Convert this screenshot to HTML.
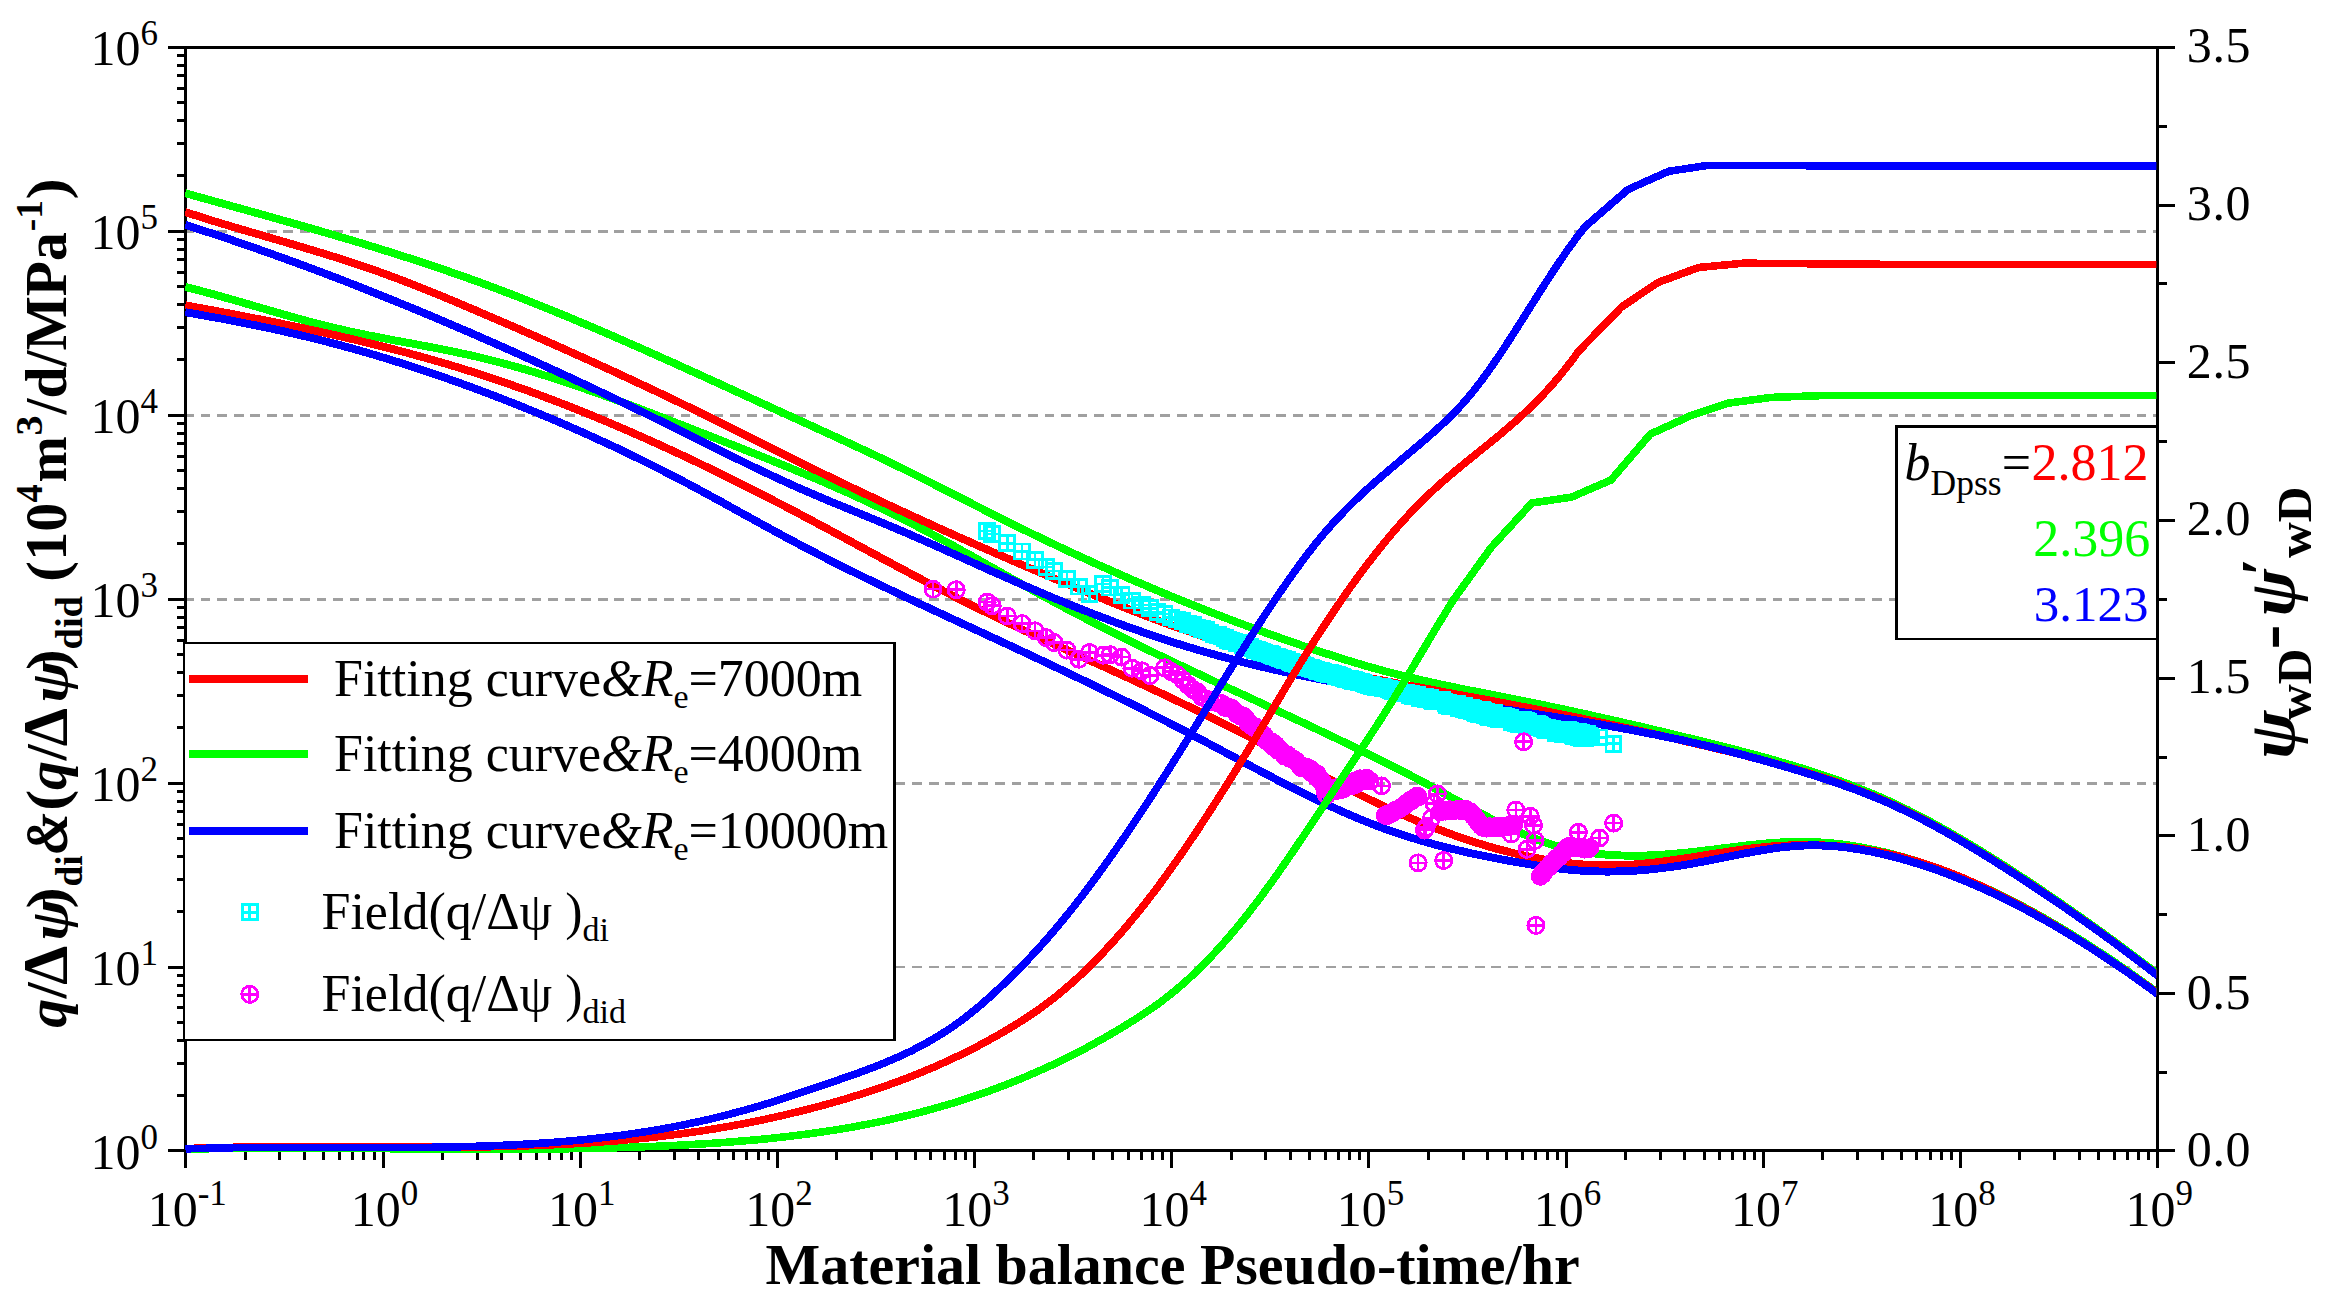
<!DOCTYPE html>
<html lang="en"><head><meta charset="utf-8"><title>Material balance pseudo-time type curve fitting</title>
<style>html,body{margin:0;padding:0;background:#fff}svg{display:block}text{font-family:'Liberation Serif','Times New Roman',Times,serif}</style>
</head><body>
<svg width="2339" height="1310" viewBox="0 0 2339 1310" shape-rendering="crispEdges">
<defs>
<clipPath id="pc"><rect x="184.8" y="46.3" width="1971.6" height="1108.8"/></clipPath>
<g id="sq" fill="none" stroke="#00ffff" stroke-width="2.8"><rect x="-7.4" y="-7.4" width="14.8" height="14.8"/><path d="M-7.4 0H7.4M0 -7.4V7.4"/></g>
<g id="ci" fill="none" stroke="#ff00ff" stroke-width="2.8"><circle r="8.1"/><path d="M-8.1 0H8.1M0 -8.1V8.1"/></g>
</defs>
<rect width="2339" height="1310" fill="#fff"/>
<path d="M185.8 967.1H2157.7M185.8 783.2H2157.7M185.8 599.2H2157.7M185.8 415.2H2157.7M185.8 231.3H2157.7" stroke="#a0a0a0" stroke-width="2.6" stroke-dasharray="9.75 6.797" stroke-dashoffset="1.6" fill="none"/>
<path d="M168.3 47.3H2175.2M168.3 1150.5H2175.2M185.8 45.8V1167.5M2157.7 45.8V1167.5M176.8 1095.7H185.8M176.8 1063.3H185.8M176.8 1040.3H185.8M176.8 1022.5H185.8M176.8 1007.9H185.8M176.8 995.6H185.8M176.8 985H185.8M176.8 975.6H185.8M168.3 967.1H185.8M176.8 911.8H185.8M176.8 879.4H185.8M176.8 856.4H185.8M176.8 838.5H185.8M176.8 824H185.8M176.8 811.7H185.8M176.8 801H185.8M176.8 791.6H185.8M168.3 783.2H185.8M176.8 727.8H185.8M176.8 695.4H185.8M176.8 672.4H185.8M176.8 654.6H185.8M176.8 640H185.8M176.8 627.7H185.8M176.8 617H185.8M176.8 607.6H185.8M168.3 599.2H185.8M176.8 543.8H185.8M176.8 511.4H185.8M176.8 488.4H185.8M176.8 470.6H185.8M176.8 456H185.8M176.8 443.7H185.8M176.8 433.1H185.8M176.8 423.7H185.8M168.3 415.2H185.8M176.8 359.9H185.8M176.8 327.5H185.8M176.8 304.5H185.8M176.8 286.6H185.8M176.8 272.1H185.8M176.8 259.8H185.8M176.8 249.1H185.8M176.8 239.7H185.8M168.3 231.3H185.8M176.8 175.9H185.8M176.8 143.5H185.8M176.8 120.5H185.8M176.8 102.7H185.8M176.8 88.1H185.8M176.8 75.8H185.8M176.8 65.1H185.8M176.8 55.7H185.8M245.2 1150.5V1159.5M279.9 1150.5V1159.5M304.5 1150.5V1159.5M323.6 1150.5V1159.5M339.2 1150.5V1159.5M352.4 1150.5V1159.5M363.9 1150.5V1159.5M374 1150.5V1159.5M383 1150.5V1167.5M442.4 1150.5V1159.5M477.1 1150.5V1159.5M501.7 1150.5V1159.5M520.8 1150.5V1159.5M536.4 1150.5V1159.5M549.6 1150.5V1159.5M561.1 1150.5V1159.5M571.2 1150.5V1159.5M580.2 1150.5V1167.5M639.5 1150.5V1159.5M674.3 1150.5V1159.5M698.9 1150.5V1159.5M718 1150.5V1159.5M733.6 1150.5V1159.5M746.8 1150.5V1159.5M758.3 1150.5V1159.5M768.3 1150.5V1159.5M777.4 1150.5V1167.5M836.7 1150.5V1159.5M871.5 1150.5V1159.5M896.1 1150.5V1159.5M915.2 1150.5V1159.5M930.8 1150.5V1159.5M944 1150.5V1159.5M955.5 1150.5V1159.5M965.5 1150.5V1159.5M974.6 1150.5V1167.5M1033.9 1150.5V1159.5M1068.6 1150.5V1159.5M1093.3 1150.5V1159.5M1112.4 1150.5V1159.5M1128 1150.5V1159.5M1141.2 1150.5V1159.5M1152.6 1150.5V1159.5M1162.7 1150.5V1159.5M1171.8 1150.5V1167.5M1231.1 1150.5V1159.5M1265.8 1150.5V1159.5M1290.5 1150.5V1159.5M1309.6 1150.5V1159.5M1325.2 1150.5V1159.5M1338.4 1150.5V1159.5M1349.8 1150.5V1159.5M1359.9 1150.5V1159.5M1368.9 1150.5V1167.5M1428.3 1150.5V1159.5M1463 1150.5V1159.5M1487.7 1150.5V1159.5M1506.8 1150.5V1159.5M1522.4 1150.5V1159.5M1535.6 1150.5V1159.5M1547 1150.5V1159.5M1557.1 1150.5V1159.5M1566.1 1150.5V1167.5M1625.5 1150.5V1159.5M1660.2 1150.5V1159.5M1684.9 1150.5V1159.5M1704 1150.5V1159.5M1719.6 1150.5V1159.5M1732.8 1150.5V1159.5M1744.2 1150.5V1159.5M1754.3 1150.5V1159.5M1763.3 1150.5V1167.5M1822.7 1150.5V1159.5M1857.4 1150.5V1159.5M1882 1150.5V1159.5M1901.1 1150.5V1159.5M1916.8 1150.5V1159.5M1930 1150.5V1159.5M1941.4 1150.5V1159.5M1951.5 1150.5V1159.5M1960.5 1150.5V1167.5M2019.9 1150.5V1159.5M2054.6 1150.5V1159.5M2079.2 1150.5V1159.5M2098.3 1150.5V1159.5M2114 1150.5V1159.5M2127.2 1150.5V1159.5M2138.6 1150.5V1159.5M2148.7 1150.5V1159.5M2157.7 1072.4H2166.7M2157.7 993.6H2175.2M2157.7 914.7H2166.7M2157.7 835.9H2175.2M2157.7 757H2166.7M2157.7 678.2H2175.2M2157.7 599.3H2166.7M2157.7 520.4H2175.2M2157.7 441.6H2166.7M2157.7 362.7H2175.2M2157.7 283.9H2166.7M2157.7 205H2175.2M2157.7 126.2H2166.7" stroke="#000" stroke-width="3.0" fill="none"/>
<g clip-path="url(#pc)" fill="none" stroke-width="7.8999999999999995" stroke-linejoin="round">
<path d="M185.3 193.2L191.3 194.9L197.3 196.6L203.3 198.2L209.3 199.9L215.3 201.6L221.3 203.2L227.3 204.9L233.3 206.6L239.3 208.2L245.3 209.9L251.3 211.6L257.3 213.2L263.3 214.9L269.3 216.6L275.3 218.3L281.3 220L287.3 221.7L293.3 223.4L299.3 225.1L305.3 226.8L311.3 228.5L317.3 230.2L323.3 232L329.3 233.7L335.3 235.5L341.3 237.3L347.3 239L353.3 240.8L359.3 242.6L365.3 244.5L371.3 246.3L377.3 248.1L383.3 250L389.3 251.9L395.3 253.8L401.3 255.7L407.3 257.6L413.3 259.5L419.3 261.5L425.3 263.5L431.3 265.5L437.3 267.5L443.3 269.5L449.3 271.6L455.3 273.7L461.3 275.8L467.3 277.9L473.3 280.1L479.3 282.2L485.3 284.4L491.3 286.7L497.3 288.9L503.3 291.2L509.3 293.5L515.3 295.8L521.3 298.1L527.3 300.5L533.3 302.9L539.3 305.3L545.3 307.7L551.3 310.1L557.3 312.6L563.3 315L569.3 317.5L575.3 320L581.3 322.6L587.3 325.1L593.3 327.7L599.3 330.2L605.3 332.8L611.3 335.4L617.3 338L623.3 340.6L629.3 343.3L635.3 345.9L641.3 348.5L647.3 351.2L653.3 353.9L659.3 356.6L665.3 359.3L671.3 361.9L677.3 364.7L683.3 367.4L689.3 370.1L695.3 372.8L701.3 375.5L707.3 378.3L713.3 381L719.3 383.7L725.3 386.5L731.3 389.2L737.3 392L743.3 394.7L749.3 397.5L755.3 400.2L761.3 403L767.3 405.7L773.3 408.5L779.3 411.2L785.3 413.9L791.3 416.7L797.3 419.4L803.3 422.1L809.3 424.9L815.3 427.6L821.3 430.4L827.3 433.1L833.3 435.9L839.3 438.6L845.3 441.4L851.3 444.2L857.3 447L863.3 449.8L869.3 452.6L875.3 455.4L881.3 458.3L887.3 461.2L893.3 464.1L899.3 467L905.3 469.9L911.3 472.9L917.3 475.9L923.3 478.9L929.3 481.9L935.3 485L941.3 488L947.3 491.1L953.3 494.1L959.3 497.2L965.3 500.3L971.3 503.3L977.3 506.4L983.3 509.5L989.3 512.5L995.3 515.5L1001.3 518.6L1007.3 521.6L1013.3 524.5L1019.3 527.5L1025.3 530.5L1031.3 533.4L1037.3 536.3L1043.3 539.2L1049.3 542.1L1055.3 544.9L1061.3 547.8L1067.3 550.6L1073.3 553.4L1079.3 556.1L1085.3 558.9L1091.3 561.6L1097.3 564.4L1103.3 567.1L1109.3 569.7L1115.3 572.4L1121.3 575L1127.3 577.7L1133.3 580.3L1139.3 582.8L1145.3 585.4L1151.3 588L1157.3 590.5L1163.3 593L1169.3 595.5L1175.3 597.9L1181.3 600.4L1187.3 602.8L1193.3 605.2L1199.3 607.6L1205.3 610L1211.3 612.4L1217.3 614.7L1223.3 617L1229.3 619.3L1235.3 621.6L1241.3 623.8L1247.3 626.1L1253.3 628.3L1259.3 630.5L1265.3 632.6L1271.3 634.8L1277.3 636.9L1283.3 639L1289.3 641.1L1295.3 643.2L1301.3 645.3L1307.3 647.3L1313.3 649.3L1319.3 651.3L1325.3 653.3L1331.3 655.2L1337.3 657.2L1343.3 659.1L1349.3 660.9L1355.3 662.7L1361.3 664.5L1367.3 666.3L1373.3 668L1379.3 669.6L1385.3 671.3L1391.3 672.8L1397.3 674.4L1403.3 675.9L1409.3 677.3L1415.3 678.7L1421.3 680.1L1427.3 681.5L1433.3 682.8L1439.3 684.1L1445.3 685.4L1451.3 686.6L1457.3 687.9L1463.3 689.1L1469.3 690.3L1475.3 691.4L1481.3 692.6L1487.3 693.8L1493.3 695L1499.3 696.2L1505.3 697.3L1511.3 698.5L1517.3 699.7L1523.3 700.9L1529.3 702.2L1535.3 703.4L1541.3 704.6L1547.3 705.9L1553.3 707.1L1559.3 708.4L1565.3 709.7L1571.3 711L1577.3 712.3L1583.3 713.6L1589.3 714.9L1595.3 716.3L1601.3 717.6L1607.3 719L1613.3 720.3L1619.3 721.7L1625.3 723.1L1631.3 724.4L1637.3 725.8L1643.3 727.2L1649.3 728.7L1655.3 730.1L1661.3 731.5L1667.3 732.9L1673.3 734.4L1679.3 735.8L1685.3 737.3L1691.3 738.7L1697.3 740.2L1703.3 741.7L1709.3 743.2L1715.3 744.7L1721.3 746.2L1727.3 747.7L1733.3 749.2L1739.3 750.8L1745.3 752.3L1751.3 753.9L1757.3 755.5L1763.3 757.2L1769.3 758.8L1775.3 760.5L1781.3 762.3L1787.3 764L1793.3 765.8L1799.3 767.6L1805.3 769.5L1811.3 771.4L1817.3 773.4L1823.3 775.4L1829.3 777.4L1835.3 779.5L1841.3 781.6L1847.3 783.9L1853.3 786.1L1859.3 788.5L1865.3 790.9L1871.3 793.4L1877.3 795.9L1883.3 798.5L1889.3 801.2L1895.3 804L1901.3 806.9L1907.3 809.8L1913.3 812.9L1919.3 815.9L1925.3 819.1L1931.3 822.3L1937.3 825.6L1943.3 828.9L1949.3 832.3L1955.3 835.8L1961.3 839.3L1967.3 842.9L1973.3 846.5L1979.3 850.1L1985.3 853.8L1991.3 857.6L1997.3 861.3L2003.3 865.1L2009.3 869L2015.3 872.9L2021.3 876.8L2027.3 880.7L2033.3 884.7L2039.3 888.7L2045.3 892.8L2051.3 896.8L2057.3 901L2063.3 905.1L2069.3 909.3L2075.3 913.5L2081.3 917.7L2087.3 922L2093.3 926.3L2099.3 930.6L2105.3 934.9L2111.3 939.3L2117.3 943.7L2123.3 948.1L2129.3 952.6L2135.3 957.1L2141.3 961.6L2147.3 966.1L2153.3 970.7L2158 974.3" stroke="#00ff00"/>
<path d="M185.3 287L191.3 288.5L197.3 290L203.3 291.6L209.3 293.2L215.3 294.8L221.3 296.5L227.3 298.2L233.3 299.9L239.3 301.6L245.3 303.4L251.3 305.1L257.3 306.9L263.3 308.6L269.3 310.4L275.3 312.1L281.3 313.8L287.3 315.5L293.3 317.2L299.3 318.9L305.3 320.5L311.3 322.1L317.3 323.7L323.3 325.2L329.3 326.7L335.3 328.1L341.3 329.5L347.3 330.9L353.3 332.2L359.3 333.4L365.3 334.7L371.3 335.9L377.3 337L383.3 338.2L389.3 339.3L395.3 340.5L401.3 341.6L407.3 342.7L413.3 343.8L419.3 345L425.3 346.1L431.3 347.2L437.3 348.4L443.3 349.6L449.3 350.8L455.3 352L461.3 353.3L467.3 354.6L473.3 355.9L479.3 357.3L485.3 358.8L491.3 360.3L497.3 361.8L503.3 363.4L509.3 365L515.3 366.7L521.3 368.4L527.3 370.1L533.3 371.9L539.3 373.8L545.3 375.6L551.3 377.5L557.3 379.5L563.3 381.4L569.3 383.4L575.3 385.5L581.3 387.5L587.3 389.6L593.3 391.7L599.3 393.9L605.3 396L611.3 398.2L617.3 400.4L623.3 402.6L629.3 404.9L635.3 407.1L641.3 409.4L647.3 411.7L653.3 414L659.3 416.3L665.3 418.6L671.3 421L677.3 423.3L683.3 425.6L689.3 428L695.3 430.3L701.3 432.7L707.3 435L713.3 437.4L719.3 439.7L725.3 442.1L731.3 444.5L737.3 446.8L743.3 449.2L749.3 451.6L755.3 453.9L761.3 456.3L767.3 458.7L773.3 461.2L779.3 463.6L785.3 466L791.3 468.5L797.3 471L803.3 473.5L809.3 476L815.3 478.5L821.3 481.1L827.3 483.7L833.3 486.3L839.3 489L845.3 491.6L851.3 494.3L857.3 497.1L863.3 499.8L869.3 502.7L875.3 505.5L881.3 508.4L887.3 511.3L893.3 514.2L899.3 517.2L905.3 520.3L911.3 523.4L917.3 526.5L923.3 529.6L929.3 532.8L935.3 536L941.3 539.3L947.3 542.5L953.3 545.8L959.3 549.2L965.3 552.5L971.3 555.8L977.3 559.2L983.3 562.6L989.3 565.9L995.3 569.3L1001.3 572.7L1007.3 576.1L1013.3 579.5L1019.3 582.8L1025.3 586.2L1031.3 589.5L1037.3 592.9L1043.3 596.2L1049.3 599.4L1055.3 602.7L1061.3 605.9L1067.3 609.1L1073.3 612.2L1079.3 615.4L1085.3 618.5L1091.3 621.6L1097.3 624.7L1103.3 627.7L1109.3 630.8L1115.3 633.8L1121.3 636.8L1127.3 639.7L1133.3 642.7L1139.3 645.6L1145.3 648.6L1151.3 651.5L1157.3 654.4L1163.3 657.2L1169.3 660.1L1175.3 663L1181.3 665.8L1187.3 668.7L1193.3 671.5L1199.3 674.3L1205.3 677.1L1211.3 680L1217.3 682.8L1223.3 685.6L1229.3 688.4L1235.3 691.1L1241.3 693.9L1247.3 696.7L1253.3 699.5L1259.3 702.3L1265.3 705.1L1271.3 707.9L1277.3 710.7L1283.3 713.5L1289.3 716.3L1295.3 719.1L1301.3 721.9L1307.3 724.7L1313.3 727.5L1319.3 730.4L1325.3 733.2L1331.3 736.1L1337.3 738.9L1343.3 741.8L1349.3 744.7L1355.3 747.6L1361.3 750.6L1367.3 753.5L1373.3 756.5L1379.3 759.5L1385.3 762.5L1391.3 765.5L1397.3 768.6L1403.3 771.6L1409.3 774.8L1415.3 777.9L1421.3 781.1L1427.3 784.3L1433.3 787.5L1439.3 790.8L1445.3 794.1L1451.3 797.4L1457.3 800.7L1463.3 803.9L1469.3 807.2L1475.3 810.5L1481.3 813.7L1487.3 816.8L1493.3 819.9L1499.3 822.9L1505.3 825.8L1511.3 828.7L1517.3 831.4L1523.3 834L1529.3 836.5L1535.3 838.9L1541.3 841.1L1547.3 843.1L1553.3 845L1559.3 846.7L1565.3 848.2L1571.3 849.6L1577.3 850.8L1583.3 851.9L1589.3 852.8L1595.3 853.6L1601.3 854.2L1607.3 854.7L1613.3 855.1L1619.3 855.4L1625.3 855.6L1631.3 855.7L1637.3 855.7L1643.3 855.6L1649.3 855.4L1655.3 855.1L1661.3 854.7L1667.3 854.3L1673.3 853.8L1679.3 853.3L1685.3 852.7L1691.3 852.1L1697.3 851.4L1703.3 850.7L1709.3 850L1715.3 849.3L1721.3 848.5L1727.3 847.8L1733.3 847L1739.3 846.3L1745.3 845.6L1751.3 844.9L1757.3 844.3L1763.3 843.7L1769.3 843.2L1775.3 842.8L1781.3 842.4L1787.3 842.1L1793.3 841.9L1799.3 841.8L1805.3 841.8L1811.3 842L1817.3 842.2L1823.3 842.6L1829.3 843.1L1835.3 843.6L1841.3 844.3L1847.3 845.1L1853.3 846L1859.3 847L1865.3 848.2L1871.3 849.3L1877.3 850.6L1883.3 852L1889.3 853.5L1895.3 855L1901.3 856.7L1907.3 858.4L1913.3 860.2L1919.3 862.1L1925.3 864.1L1931.3 866.1L1937.3 868.2L1943.3 870.4L1949.3 872.7L1955.3 875.1L1961.3 877.5L1967.3 880L1973.3 882.6L1979.3 885.2L1985.3 888L1991.3 890.7L1997.3 893.6L2003.3 896.5L2009.3 899.5L2015.3 902.6L2021.3 905.7L2027.3 908.9L2033.3 912.2L2039.3 915.5L2045.3 918.9L2051.3 922.4L2057.3 925.9L2063.3 929.5L2069.3 933.1L2075.3 936.8L2081.3 940.5L2087.3 944.3L2093.3 948.2L2099.3 952.1L2105.3 956L2111.3 960.1L2117.3 964.1L2123.3 968.3L2129.3 972.4L2135.3 976.7L2141.3 981L2147.3 985.3L2153.3 989.7L2158 993.2" stroke="#00ff00"/>
<path d="M185.3 212.1L191.3 214L197.3 215.9L203.3 217.8L209.3 219.7L215.3 221.6L221.3 223.4L227.3 225.2L233.3 227L239.3 228.8L245.3 230.5L251.3 232.3L257.3 234L263.3 235.8L269.3 237.5L275.3 239.3L281.3 241L287.3 242.8L293.3 244.5L299.3 246.3L305.3 248.1L311.3 249.9L317.3 251.7L323.3 253.5L329.3 255.4L335.3 257.2L341.3 259.1L347.3 261.1L353.3 263L359.3 265L365.3 267L371.3 269.1L377.3 271.2L383.3 273.4L389.3 275.6L395.3 277.8L401.3 280.1L407.3 282.4L413.3 284.7L419.3 287.1L425.3 289.5L431.3 291.9L437.3 294.3L443.3 296.8L449.3 299.3L455.3 301.8L461.3 304.4L467.3 306.9L473.3 309.4L479.3 312L485.3 314.6L491.3 317.2L497.3 319.7L503.3 322.3L509.3 324.9L515.3 327.5L521.3 330.1L527.3 332.8L533.3 335.4L539.3 338L545.3 340.7L551.3 343.3L557.3 346L563.3 348.7L569.3 351.4L575.3 354.1L581.3 356.8L587.3 359.5L593.3 362.2L599.3 364.9L605.3 367.7L611.3 370.4L617.3 373.2L623.3 376L629.3 378.8L635.3 381.6L641.3 384.4L647.3 387.2L653.3 390L659.3 392.9L665.3 395.7L671.3 398.6L677.3 401.5L683.3 404.4L689.3 407.3L695.3 410.2L701.3 413.2L707.3 416.1L713.3 419.1L719.3 422.1L725.3 425L731.3 428L737.3 431L743.3 434.1L749.3 437.1L755.3 440.1L761.3 443.1L767.3 446.1L773.3 449.1L779.3 452.1L785.3 455.1L791.3 458.1L797.3 461.1L803.3 464.1L809.3 467L815.3 470L821.3 472.9L827.3 475.8L833.3 478.7L839.3 481.6L845.3 484.5L851.3 487.4L857.3 490.2L863.3 493.1L869.3 495.9L875.3 498.7L881.3 501.6L887.3 504.4L893.3 507.2L899.3 510L905.3 512.7L911.3 515.5L917.3 518.3L923.3 521L929.3 523.7L935.3 526.5L941.3 529.2L947.3 531.9L953.3 534.6L959.3 537.3L965.3 539.9L971.3 542.6L977.3 545.3L983.3 547.9L989.3 550.5L995.3 553.2L1001.3 555.8L1007.3 558.4L1013.3 561L1019.3 563.6L1025.3 566.2L1031.3 568.8L1037.3 571.3L1043.3 573.9L1049.3 576.4L1055.3 579L1061.3 581.5L1067.3 584L1073.3 586.5L1079.3 589L1085.3 591.5L1091.3 594L1097.3 596.5L1103.3 598.9L1109.3 601.4L1115.3 603.8L1121.3 606.2L1127.3 608.6L1133.3 611L1139.3 613.3L1145.3 615.6L1151.3 617.9L1157.3 620.2L1163.3 622.4L1169.3 624.6L1175.3 626.8L1181.3 628.9L1187.3 630.9L1193.3 633L1199.3 635L1205.3 636.9L1211.3 638.8L1217.3 640.7L1223.3 642.6L1229.3 644.4L1235.3 646.1L1241.3 647.8L1247.3 649.5L1253.3 651.2L1259.3 652.8L1265.3 654.4L1271.3 655.9L1277.3 657.5L1283.3 659L1289.3 660.4L1295.3 661.9L1301.3 663.3L1307.3 664.7L1313.3 666.1L1319.3 667.4L1325.3 668.7L1331.3 670.1L1337.3 671.3L1343.3 672.6L1349.3 673.9L1355.3 675.1L1361.3 676.3L1367.3 677.5L1373.3 678.7L1379.3 679.9L1385.3 681L1391.3 682.2L1397.3 683.3L1403.3 684.5L1409.3 685.6L1415.3 686.7L1421.3 687.8L1427.3 688.9L1433.3 690L1439.3 691.1L1445.3 692.3L1451.3 693.4L1457.3 694.5L1463.3 695.6L1469.3 696.7L1475.3 697.8L1481.3 698.9L1487.3 700L1493.3 701.1L1499.3 702.3L1505.3 703.4L1511.3 704.6L1517.3 705.7L1523.3 706.9L1529.3 708L1535.3 709.2L1541.3 710.4L1547.3 711.6L1553.3 712.8L1559.3 714L1565.3 715.2L1571.3 716.4L1577.3 717.6L1583.3 718.9L1589.3 720.1L1595.3 721.4L1601.3 722.6L1607.3 723.9L1613.3 725.2L1619.3 726.5L1625.3 727.8L1631.3 729.1L1637.3 730.4L1643.3 731.7L1649.3 733L1655.3 734.4L1661.3 735.7L1667.3 737.1L1673.3 738.4L1679.3 739.8L1685.3 741.2L1691.3 742.6L1697.3 744L1703.3 745.4L1709.3 746.8L1715.3 748.2L1721.3 749.7L1727.3 751.1L1733.3 752.6L1739.3 754.1L1745.3 755.6L1751.3 757.2L1757.3 758.7L1763.3 760.3L1769.3 761.9L1775.3 763.6L1781.3 765.3L1787.3 767L1793.3 768.7L1799.3 770.4L1805.3 772.2L1811.3 774.1L1817.3 776L1823.3 777.9L1829.3 779.9L1835.3 781.9L1841.3 783.9L1847.3 786.1L1853.3 788.3L1859.3 790.5L1865.3 792.9L1871.3 795.3L1877.3 797.8L1883.3 800.3L1889.3 803L1895.3 805.7L1901.3 808.6L1907.3 811.5L1913.3 814.5L1919.3 817.5L1925.3 820.7L1931.3 823.9L1937.3 827.2L1943.3 830.5L1949.3 833.9L1955.3 837.3L1961.3 840.8L1967.3 844.4L1973.3 848L1979.3 851.6L1985.3 855.3L1991.3 859L1997.3 862.8L2003.3 866.6L2009.3 870.4L2015.3 874.3L2021.3 878.2L2027.3 882.1L2033.3 886L2039.3 890L2045.3 894.1L2051.3 898.1L2057.3 902.2L2063.3 906.3L2069.3 910.5L2075.3 914.7L2081.3 918.9L2087.3 923.1L2093.3 927.4L2099.3 931.7L2105.3 936.1L2111.3 940.5L2117.3 944.9L2123.3 949.3L2129.3 953.8L2135.3 958.3L2141.3 962.8L2147.3 967.4L2153.3 972L2158 975.6" stroke="#ff0000"/>
<path d="M185.3 305.3L191.3 306.4L197.3 307.5L203.3 308.6L209.3 309.7L215.3 310.8L221.3 311.9L227.3 313.1L233.3 314.2L239.3 315.4L245.3 316.5L251.3 317.7L257.3 318.9L263.3 320L269.3 321.2L275.3 322.4L281.3 323.7L287.3 324.9L293.3 326.1L299.3 327.4L305.3 328.7L311.3 329.9L317.3 331.2L323.3 332.6L329.3 333.9L335.3 335.2L341.3 336.6L347.3 338L353.3 339.4L359.3 340.8L365.3 342.3L371.3 343.7L377.3 345.2L383.3 346.7L389.3 348.2L395.3 349.8L401.3 351.3L407.3 352.9L413.3 354.6L419.3 356.2L425.3 357.9L431.3 359.6L437.3 361.3L443.3 363L449.3 364.8L455.3 366.6L461.3 368.4L467.3 370.3L473.3 372.2L479.3 374.1L485.3 376.1L491.3 378L497.3 380L503.3 382.1L509.3 384.2L515.3 386.3L521.3 388.4L527.3 390.5L533.3 392.7L539.3 394.9L545.3 397.2L551.3 399.5L557.3 401.8L563.3 404.1L569.3 406.4L575.3 408.8L581.3 411.2L587.3 413.6L593.3 416.1L599.3 418.6L605.3 421.1L611.3 423.6L617.3 426.2L623.3 428.8L629.3 431.4L635.3 434L641.3 436.6L647.3 439.3L653.3 442L659.3 444.7L665.3 447.5L671.3 450.2L677.3 453L683.3 455.8L689.3 458.6L695.3 461.5L701.3 464.4L707.3 467.3L713.3 470.2L719.3 473.1L725.3 476L731.3 479L737.3 482L743.3 485L749.3 488L755.3 491.1L761.3 494.1L767.3 497.2L773.3 500.3L779.3 503.4L785.3 506.5L791.3 509.7L797.3 512.8L803.3 516L809.3 519.2L815.3 522.4L821.3 525.6L827.3 528.8L833.3 532L839.3 535.3L845.3 538.5L851.3 541.8L857.3 545L863.3 548.2L869.3 551.5L875.3 554.7L881.3 558L887.3 561.2L893.3 564.4L899.3 567.6L905.3 570.8L911.3 574L917.3 577.2L923.3 580.4L929.3 583.5L935.3 586.7L941.3 589.8L947.3 592.9L953.3 596L959.3 599L965.3 602.1L971.3 605.1L977.3 608.1L983.3 611L989.3 613.9L995.3 616.8L1001.3 619.7L1007.3 622.6L1013.3 625.4L1019.3 628.2L1025.3 631L1031.3 633.8L1037.3 636.5L1043.3 639.3L1049.3 642L1055.3 644.8L1061.3 647.5L1067.3 650.2L1073.3 652.9L1079.3 655.6L1085.3 658.3L1091.3 661.1L1097.3 663.8L1103.3 666.5L1109.3 669.2L1115.3 672L1121.3 674.7L1127.3 677.5L1133.3 680.3L1139.3 683.1L1145.3 685.9L1151.3 688.7L1157.3 691.5L1163.3 694.3L1169.3 697.2L1175.3 700.1L1181.3 702.9L1187.3 705.8L1193.3 708.7L1199.3 711.7L1205.3 714.6L1211.3 717.6L1217.3 720.6L1223.3 723.6L1229.3 726.6L1235.3 729.7L1241.3 732.8L1247.3 735.9L1253.3 739L1259.3 742.1L1265.3 745.3L1271.3 748.5L1277.3 751.6L1283.3 754.8L1289.3 758L1295.3 761.2L1301.3 764.4L1307.3 767.6L1313.3 770.8L1319.3 773.9L1325.3 777.1L1331.3 780.2L1337.3 783.3L1343.3 786.4L1349.3 789.4L1355.3 792.4L1361.3 795.4L1367.3 798.4L1373.3 801.3L1379.3 804.1L1385.3 806.9L1391.3 809.7L1397.3 812.4L1403.3 815L1409.3 817.6L1415.3 820.2L1421.3 822.7L1427.3 825.1L1433.3 827.5L1439.3 829.8L1445.3 832L1451.3 834.2L1457.3 836.4L1463.3 838.4L1469.3 840.4L1475.3 842.4L1481.3 844.2L1487.3 846.1L1493.3 847.8L1499.3 849.5L1505.3 851L1511.3 852.6L1517.3 854L1523.3 855.4L1529.3 856.7L1535.3 857.9L1541.3 859L1547.3 860.1L1553.3 861.1L1559.3 861.9L1565.3 862.7L1571.3 863.4L1577.3 864L1583.3 864.5L1589.3 864.9L1595.3 865.2L1601.3 865.3L1607.3 865.4L1613.3 865.4L1619.3 865.3L1625.3 865L1631.3 864.7L1637.3 864.2L1643.3 863.7L1649.3 863.1L1655.3 862.4L1661.3 861.7L1667.3 860.9L1673.3 860.1L1679.3 859.2L1685.3 858.3L1691.3 857.4L1697.3 856.4L1703.3 855.5L1709.3 854.5L1715.3 853.6L1721.3 852.7L1727.3 851.8L1733.3 850.9L1739.3 850L1745.3 849.2L1751.3 848.5L1757.3 847.8L1763.3 847.2L1769.3 846.6L1775.3 846.2L1781.3 845.8L1787.3 845.5L1793.3 845.3L1799.3 845.1L1805.3 845.1L1811.3 845.1L1817.3 845.2L1823.3 845.4L1829.3 845.7L1835.3 846.1L1841.3 846.6L1847.3 847.2L1853.3 847.9L1859.3 848.7L1865.3 849.5L1871.3 850.5L1877.3 851.6L1883.3 852.8L1889.3 854.1L1895.3 855.5L1901.3 857L1907.3 858.6L1913.3 860.3L1919.3 862.1L1925.3 864.1L1931.3 866.1L1937.3 868.2L1943.3 870.3L1949.3 872.6L1955.3 875L1961.3 877.4L1967.3 880L1973.3 882.6L1979.3 885.3L1985.3 888.1L1991.3 890.9L1997.3 893.9L2003.3 896.9L2009.3 899.9L2015.3 903.1L2021.3 906.3L2027.3 909.6L2033.3 912.9L2039.3 916.3L2045.3 919.8L2051.3 923.3L2057.3 926.9L2063.3 930.5L2069.3 934.2L2075.3 937.9L2081.3 941.7L2087.3 945.5L2093.3 949.4L2099.3 953.3L2105.3 957.3L2111.3 961.3L2117.3 965.3L2123.3 969.4L2129.3 973.5L2135.3 977.6L2141.3 981.8L2147.3 986L2153.3 990.2L2158 993.5" stroke="#ff0000"/>
<path d="M185.3 224.9L191.3 226.8L197.3 228.7L203.3 230.7L209.3 232.6L215.3 234.6L221.3 236.6L227.3 238.6L233.3 240.6L239.3 242.7L245.3 244.7L251.3 246.8L257.3 248.9L263.3 251L269.3 253.1L275.3 255.3L281.3 257.4L287.3 259.6L293.3 261.8L299.3 264L305.3 266.2L311.3 268.4L317.3 270.7L323.3 272.9L329.3 275.2L335.3 277.5L341.3 279.8L347.3 282.1L353.3 284.5L359.3 286.8L365.3 289.2L371.3 291.6L377.3 294L383.3 296.4L389.3 298.8L395.3 301.2L401.3 303.7L407.3 306.1L413.3 308.6L419.3 311.1L425.3 313.6L431.3 316.1L437.3 318.6L443.3 321.2L449.3 323.7L455.3 326.3L461.3 328.9L467.3 331.4L473.3 334L479.3 336.7L485.3 339.3L491.3 341.9L497.3 344.6L503.3 347.2L509.3 349.9L515.3 352.6L521.3 355.3L527.3 358L533.3 360.7L539.3 363.5L545.3 366.2L551.3 369L557.3 371.7L563.3 374.5L569.3 377.3L575.3 380.1L581.3 382.9L587.3 385.7L593.3 388.5L599.3 391.4L605.3 394.2L611.3 397.1L617.3 399.9L623.3 402.8L629.3 405.7L635.3 408.6L641.3 411.5L647.3 414.4L653.3 417.4L659.3 420.3L665.3 423.2L671.3 426.2L677.3 429.2L683.3 432.1L689.3 435.1L695.3 438.1L701.3 441.1L707.3 444.1L713.3 447.1L719.3 450.1L725.3 453L731.3 456L737.3 459L743.3 461.9L749.3 464.9L755.3 467.8L761.3 470.6L767.3 473.5L773.3 476.3L779.3 479.1L785.3 481.9L791.3 484.6L797.3 487.3L803.3 489.9L809.3 492.5L815.3 495.1L821.3 497.6L827.3 500.2L833.3 502.7L839.3 505.1L845.3 507.6L851.3 510.1L857.3 512.5L863.3 515L869.3 517.5L875.3 519.9L881.3 522.4L887.3 524.9L893.3 527.4L899.3 530L905.3 532.5L911.3 535.1L917.3 537.8L923.3 540.4L929.3 543.1L935.3 545.7L941.3 548.4L947.3 551.1L953.3 553.8L959.3 556.5L965.3 559.2L971.3 561.9L977.3 564.7L983.3 567.4L989.3 570.1L995.3 572.8L1001.3 575.4L1007.3 578.1L1013.3 580.7L1019.3 583.4L1025.3 586L1031.3 588.5L1037.3 591.1L1043.3 593.6L1049.3 596.2L1055.3 598.7L1061.3 601.1L1067.3 603.6L1073.3 606L1079.3 608.4L1085.3 610.8L1091.3 613.1L1097.3 615.5L1103.3 617.8L1109.3 620L1115.3 622.3L1121.3 624.5L1127.3 626.7L1133.3 628.8L1139.3 630.9L1145.3 633L1151.3 635.1L1157.3 637.1L1163.3 639.1L1169.3 641.1L1175.3 643L1181.3 644.9L1187.3 646.7L1193.3 648.5L1199.3 650.3L1205.3 652L1211.3 653.7L1217.3 655.4L1223.3 657L1229.3 658.6L1235.3 660.2L1241.3 661.8L1247.3 663.3L1253.3 664.7L1259.3 666.2L1265.3 667.6L1271.3 669L1277.3 670.3L1283.3 671.7L1289.3 673L1295.3 674.3L1301.3 675.5L1307.3 676.8L1313.3 678L1319.3 679.2L1325.3 680.4L1331.3 681.5L1337.3 682.6L1343.3 683.7L1349.3 684.8L1355.3 685.9L1361.3 687L1367.3 688L1373.3 689L1379.3 690.1L1385.3 691.1L1391.3 692.1L1397.3 693L1403.3 694L1409.3 695L1415.3 695.9L1421.3 696.8L1427.3 697.8L1433.3 698.7L1439.3 699.6L1445.3 700.5L1451.3 701.4L1457.3 702.3L1463.3 703.2L1469.3 704.1L1475.3 705L1481.3 705.9L1487.3 706.8L1493.3 707.7L1499.3 708.6L1505.3 709.5L1511.3 710.3L1517.3 711.2L1523.3 712.2L1529.3 713.1L1535.3 714L1541.3 714.9L1547.3 715.8L1553.3 716.8L1559.3 717.7L1565.3 718.7L1571.3 719.6L1577.3 720.6L1583.3 721.6L1589.3 722.6L1595.3 723.6L1601.3 724.6L1607.3 725.7L1613.3 726.7L1619.3 727.8L1625.3 728.9L1631.3 730L1637.3 731.1L1643.3 732.3L1649.3 733.5L1655.3 734.6L1661.3 735.9L1667.3 737.1L1673.3 738.4L1679.3 739.6L1685.3 740.9L1691.3 742.3L1697.3 743.6L1703.3 745L1709.3 746.4L1715.3 747.9L1721.3 749.3L1727.3 750.8L1733.3 752.4L1739.3 753.9L1745.3 755.5L1751.3 757.1L1757.3 758.7L1763.3 760.4L1769.3 762.1L1775.3 763.8L1781.3 765.5L1787.3 767.3L1793.3 769.1L1799.3 770.9L1805.3 772.8L1811.3 774.6L1817.3 776.5L1823.3 778.5L1829.3 780.5L1835.3 782.5L1841.3 784.5L1847.3 786.7L1853.3 788.8L1859.3 791.1L1865.3 793.4L1871.3 795.8L1877.3 798.3L1883.3 800.8L1889.3 803.4L1895.3 806.2L1901.3 809L1907.3 811.9L1913.3 814.9L1919.3 817.9L1925.3 821L1931.3 824.2L1937.3 827.5L1943.3 830.8L1949.3 834.2L1955.3 837.6L1961.3 841.1L1967.3 844.7L1973.3 848.3L1979.3 851.9L1985.3 855.6L1991.3 859.3L1997.3 863.1L2003.3 866.9L2009.3 870.7L2015.3 874.5L2021.3 878.4L2027.3 882.3L2033.3 886.3L2039.3 890.3L2045.3 894.3L2051.3 898.3L2057.3 902.4L2063.3 906.5L2069.3 910.7L2075.3 914.9L2081.3 919.1L2087.3 923.3L2093.3 927.6L2099.3 931.9L2105.3 936.3L2111.3 940.6L2117.3 945.1L2123.3 949.5L2129.3 954L2135.3 958.5L2141.3 963L2147.3 967.6L2153.3 972.2L2158 975.8" stroke="#0000ff"/>
<path d="M185.3 312.3L191.3 313.3L197.3 314.3L203.3 315.4L209.3 316.5L215.3 317.5L221.3 318.6L227.3 319.8L233.3 320.9L239.3 322.1L245.3 323.3L251.3 324.5L257.3 325.7L263.3 326.9L269.3 328.2L275.3 329.5L281.3 330.8L287.3 332.2L293.3 333.6L299.3 334.9L305.3 336.4L311.3 337.8L317.3 339.3L323.3 340.8L329.3 342.4L335.3 343.9L341.3 345.5L347.3 347.2L353.3 348.8L359.3 350.5L365.3 352.2L371.3 354L377.3 355.8L383.3 357.6L389.3 359.4L395.3 361.3L401.3 363.2L407.3 365.1L413.3 367L419.3 369L425.3 371L431.3 373L437.3 375.1L443.3 377.2L449.3 379.3L455.3 381.4L461.3 383.6L467.3 385.7L473.3 387.9L479.3 390.2L485.3 392.4L491.3 394.7L497.3 397L503.3 399.3L509.3 401.7L515.3 404L521.3 406.4L527.3 408.9L533.3 411.3L539.3 413.8L545.3 416.3L551.3 418.8L557.3 421.4L563.3 423.9L569.3 426.5L575.3 429.2L581.3 431.8L587.3 434.5L593.3 437.2L599.3 440L605.3 442.7L611.3 445.5L617.3 448.3L623.3 451.2L629.3 454.1L635.3 457L641.3 459.9L647.3 462.9L653.3 465.9L659.3 468.9L665.3 472L671.3 475.1L677.3 478.2L683.3 481.3L689.3 484.5L695.3 487.7L701.3 490.9L707.3 494.2L713.3 497.5L719.3 500.7L725.3 504L731.3 507.4L737.3 510.7L743.3 514L749.3 517.3L755.3 520.6L761.3 523.9L767.3 527.2L773.3 530.5L779.3 533.8L785.3 537L791.3 540.2L797.3 543.4L803.3 546.6L809.3 549.7L815.3 552.8L821.3 555.9L827.3 559L833.3 562L839.3 565L845.3 568L851.3 571L857.3 573.9L863.3 576.9L869.3 579.8L875.3 582.7L881.3 585.6L887.3 588.4L893.3 591.3L899.3 594.1L905.3 597L911.3 599.8L917.3 602.6L923.3 605.4L929.3 608.2L935.3 611L941.3 613.8L947.3 616.6L953.3 619.4L959.3 622.2L965.3 624.9L971.3 627.7L977.3 630.5L983.3 633.3L989.3 636.1L995.3 638.8L1001.3 641.6L1007.3 644.4L1013.3 647.2L1019.3 650L1025.3 652.8L1031.3 655.7L1037.3 658.5L1043.3 661.3L1049.3 664.1L1055.3 667L1061.3 669.8L1067.3 672.7L1073.3 675.6L1079.3 678.4L1085.3 681.3L1091.3 684.2L1097.3 687.1L1103.3 690L1109.3 693L1115.3 695.9L1121.3 698.9L1127.3 701.8L1133.3 704.8L1139.3 707.8L1145.3 710.8L1151.3 713.9L1157.3 716.9L1163.3 719.9L1169.3 723L1175.3 726.1L1181.3 729.2L1187.3 732.3L1193.3 735.5L1199.3 738.6L1205.3 741.8L1211.3 745L1217.3 748.2L1223.3 751.4L1229.3 754.6L1235.3 757.8L1241.3 761L1247.3 764.2L1253.3 767.4L1259.3 770.5L1265.3 773.7L1271.3 776.8L1277.3 780L1283.3 783.1L1289.3 786.1L1295.3 789.2L1301.3 792.2L1307.3 795.1L1313.3 798.1L1319.3 801L1325.3 803.8L1331.3 806.6L1337.3 809.3L1343.3 812L1349.3 814.6L1355.3 817.2L1361.3 819.7L1367.3 822.1L1373.3 824.5L1379.3 826.8L1385.3 829L1391.3 831.1L1397.3 833.2L1403.3 835.2L1409.3 837.1L1415.3 838.9L1421.3 840.7L1427.3 842.4L1433.3 844.1L1439.3 845.7L1445.3 847.2L1451.3 848.7L1457.3 850.1L1463.3 851.5L1469.3 852.9L1475.3 854.2L1481.3 855.4L1487.3 856.6L1493.3 857.8L1499.3 859L1505.3 860.1L1511.3 861.2L1517.3 862.3L1523.3 863.3L1529.3 864.3L1535.3 865.3L1541.3 866.2L1547.3 867L1553.3 867.8L1559.3 868.6L1565.3 869.3L1571.3 869.8L1577.3 870.4L1583.3 870.8L1589.3 871.1L1595.3 871.4L1601.3 871.5L1607.3 871.6L1613.3 871.5L1619.3 871.4L1625.3 871.2L1631.3 870.9L1637.3 870.5L1643.3 870L1649.3 869.5L1655.3 868.9L1661.3 868.2L1667.3 867.4L1673.3 866.6L1679.3 865.7L1685.3 864.8L1691.3 863.8L1697.3 862.7L1703.3 861.6L1709.3 860.5L1715.3 859.3L1721.3 858.1L1727.3 856.9L1733.3 855.7L1739.3 854.5L1745.3 853.3L1751.3 852.2L1757.3 851.1L1763.3 850L1769.3 849.1L1775.3 848.2L1781.3 847.4L1787.3 846.8L1793.3 846.2L1799.3 845.8L1805.3 845.5L1811.3 845.4L1817.3 845.4L1823.3 845.6L1829.3 845.9L1835.3 846.3L1841.3 846.9L1847.3 847.6L1853.3 848.5L1859.3 849.4L1865.3 850.5L1871.3 851.6L1877.3 852.9L1883.3 854.3L1889.3 855.7L1895.3 857.2L1901.3 858.8L1907.3 860.5L1913.3 862.3L1919.3 864.2L1925.3 866.1L1931.3 868.1L1937.3 870.2L1943.3 872.4L1949.3 874.7L1955.3 877L1961.3 879.4L1967.3 881.9L1973.3 884.4L1979.3 887L1985.3 889.7L1991.3 892.5L1997.3 895.3L2003.3 898.2L2009.3 901.2L2015.3 904.2L2021.3 907.3L2027.3 910.5L2033.3 913.8L2039.3 917.1L2045.3 920.4L2051.3 923.8L2057.3 927.3L2063.3 930.9L2069.3 934.5L2075.3 938.1L2081.3 941.9L2087.3 945.6L2093.3 949.5L2099.3 953.4L2105.3 957.3L2111.3 961.3L2117.3 965.4L2123.3 969.5L2129.3 973.6L2135.3 977.8L2141.3 982.1L2147.3 986.4L2153.3 990.8L2158 994.2" stroke="#0000ff"/>
</g>
<g>
<use href="#sq" x="987.1" y="530.9"/><use href="#sq" x="992.2" y="534"/><use href="#sq" x="1007.2" y="543.3"/><use href="#sq" x="1022.1" y="551.5"/><use href="#sq" x="1035" y="559.8"/><use href="#sq" x="1046.3" y="567"/><use href="#sq" x="1054" y="571.1"/><use href="#sq" x="1066.9" y="579.3"/><use href="#sq" x="1078.8" y="586.6"/><use href="#sq" x="1089.6" y="593.8"/><use href="#sq" x="1103" y="584"/><use href="#sq" x="1110.2" y="587.6"/><use href="#sq" x="1121.6" y="594.8"/><use href="#sq" x="1131.9" y="600.5"/><use href="#sq" x="1141.8" y="604.9"/><use href="#sq" x="1150.1" y="608.3"/><use href="#sq" x="1157.7" y="612.2"/><use href="#sq" x="1164.7" y="614.1"/><use href="#sq" x="1171.1" y="617.4"/><use href="#sq" x="1177.1" y="619.4"/><use href="#sq" x="1182.7" y="621.1"/><use href="#sq" x="1188" y="623.9"/><use href="#sq" x="1193" y="625"/><use href="#sq" x="1197.6" y="627.5"/><use href="#sq" x="1202.1" y="628.7"/><use href="#sq" x="1206.3" y="630.3"/><use href="#sq" x="1210.3" y="632.4"/><use href="#sq" x="1214.2" y="634.6"/><use href="#sq" x="1217.8" y="634.9"/><use href="#sq" x="1221.4" y="636.4"/><use href="#sq" x="1224.8" y="638.3"/><use href="#sq" x="1228" y="640.1"/><use href="#sq" x="1231.2" y="640.7"/><use href="#sq" x="1234.2" y="641.6"/><use href="#sq" x="1237.1" y="643.6"/><use href="#sq" x="1239.9" y="643.2"/><use href="#sq" x="1242.7" y="645.5"/><use href="#sq" x="1245.3" y="645.6"/><use href="#sq" x="1247.9" y="646.3"/><use href="#sq" x="1250.4" y="647.1"/><use href="#sq" x="1252.8" y="648.3"/><use href="#sq" x="1255.2" y="650"/><use href="#sq" x="1257.5" y="649.8"/><use href="#sq" x="1259.7" y="651.2"/><use href="#sq" x="1261.9" y="652.1"/><use href="#sq" x="1264" y="652.4"/><use href="#sq" x="1266.1" y="653.4"/><use href="#sq" x="1268.1" y="653.4"/><use href="#sq" x="1270.1" y="654.1"/><use href="#sq" x="1272" y="655"/><use href="#sq" x="1273.9" y="656.4"/><use href="#sq" x="1275.8" y="656.6"/><use href="#sq" x="1277.6" y="657"/><use href="#sq" x="1279.4" y="658"/><use href="#sq" x="1281.1" y="658.4"/><use href="#sq" x="1282.8" y="658.7"/><use href="#sq" x="1284.5" y="660"/><use href="#sq" x="1286.1" y="660.4"/><use href="#sq" x="1287.7" y="660.2"/><use href="#sq" x="1289.3" y="661.3"/><use href="#sq" x="1290.8" y="661.7"/><use href="#sq" x="1292.4" y="662.7"/><use href="#sq" x="1293.8" y="663"/><use href="#sq" x="1295.3" y="662.7"/><use href="#sq" x="1296.8" y="664.3"/><use href="#sq" x="1298.2" y="663.4"/><use href="#sq" x="1299.6" y="664.3"/><use href="#sq" x="1301" y="665.3"/><use href="#sq" x="1302.3" y="664.7"/><use href="#sq" x="1303.6" y="665.7"/><use href="#sq" x="1305" y="665.4"/><use href="#sq" x="1306.2" y="666.8"/><use href="#sq" x="1307.5" y="667.3"/><use href="#sq" x="1308.8" y="667.4"/><use href="#sq" x="1310" y="668.3"/><use href="#sq" x="1311.2" y="667.8"/><use href="#sq" x="1312.4" y="668.7"/><use href="#sq" x="1313.6" y="668.9"/><use href="#sq" x="1314.8" y="669.3"/><use href="#sq" x="1315.9" y="669.4"/><use href="#sq" x="1317.1" y="670.4"/><use href="#sq" x="1318.2" y="670.9"/><use href="#sq" x="1319.3" y="670.5"/><use href="#sq" x="1320.4" y="671.1"/><use href="#sq" x="1321.5" y="670.5"/><use href="#sq" x="1322.6" y="671.8"/><use href="#sq" x="1323.7" y="672.1"/><use href="#sq" x="1324.8" y="673"/><use href="#sq" x="1325.9" y="673"/><use href="#sq" x="1327" y="672.5"/><use href="#sq" x="1328.1" y="673"/><use href="#sq" x="1329.2" y="673.7"/><use href="#sq" x="1330.3" y="673"/><use href="#sq" x="1331.4" y="674.1"/><use href="#sq" x="1332.5" y="673.9"/><use href="#sq" x="1333.6" y="674.1"/><use href="#sq" x="1334.7" y="674.4"/><use href="#sq" x="1335.8" y="675.8"/><use href="#sq" x="1336.9" y="675.1"/><use href="#sq" x="1338" y="675.6"/><use href="#sq" x="1339.1" y="676.2"/><use href="#sq" x="1340.2" y="677.3"/><use href="#sq" x="1341.3" y="676.3"/><use href="#sq" x="1342.4" y="677.2"/><use href="#sq" x="1343.5" y="677.7"/><use href="#sq" x="1344.6" y="678.5"/><use href="#sq" x="1345.7" y="678.7"/><use href="#sq" x="1346.8" y="679.1"/><use href="#sq" x="1347.9" y="678.5"/><use href="#sq" x="1349" y="679"/><use href="#sq" x="1350.1" y="679.2"/><use href="#sq" x="1351.2" y="680.4"/><use href="#sq" x="1352.3" y="680.8"/><use href="#sq" x="1353.4" y="679.8"/><use href="#sq" x="1354.5" y="680.2"/><use href="#sq" x="1355.6" y="680.5"/><use href="#sq" x="1356.7" y="680.8"/><use href="#sq" x="1357.8" y="681.6"/><use href="#sq" x="1358.9" y="682"/><use href="#sq" x="1360" y="681.8"/><use href="#sq" x="1361.1" y="681.7"/><use href="#sq" x="1362.2" y="682.6"/><use href="#sq" x="1363.3" y="682.9"/><use href="#sq" x="1364.4" y="683.5"/><use href="#sq" x="1365.5" y="684.4"/><use href="#sq" x="1366.6" y="684.3"/><use href="#sq" x="1367.7" y="684.3"/><use href="#sq" x="1368.8" y="684.7"/><use href="#sq" x="1369.9" y="685.1"/><use href="#sq" x="1371" y="684.4"/><use href="#sq" x="1372.1" y="686"/><use href="#sq" x="1373.2" y="686.1"/><use href="#sq" x="1374.3" y="686.6"/><use href="#sq" x="1375.4" y="686.7"/><use href="#sq" x="1376.5" y="686.4"/><use href="#sq" x="1377.6" y="686.7"/><use href="#sq" x="1378.7" y="686.5"/><use href="#sq" x="1379.8" y="687.6"/><use href="#sq" x="1380.9" y="687"/><use href="#sq" x="1382" y="687.2"/><use href="#sq" x="1383.1" y="687.7"/><use href="#sq" x="1384.2" y="687.9"/><use href="#sq" x="1385.3" y="688.5"/><use href="#sq" x="1386.4" y="688.3"/><use href="#sq" x="1387.5" y="688.5"/><use href="#sq" x="1388.6" y="689"/><use href="#sq" x="1389.7" y="689.2"/><use href="#sq" x="1390.8" y="689.8"/><use href="#sq" x="1391.9" y="689.6"/><use href="#sq" x="1393" y="691.2"/><use href="#sq" x="1394.1" y="691"/><use href="#sq" x="1395.2" y="690.5"/><use href="#sq" x="1396.3" y="691"/><use href="#sq" x="1397.4" y="691.4"/><use href="#sq" x="1398.5" y="691.7"/><use href="#sq" x="1399.6" y="691.5"/><use href="#sq" x="1400.7" y="692.9"/><use href="#sq" x="1401.8" y="693.5"/><use href="#sq" x="1402.9" y="692.8"/><use href="#sq" x="1404" y="693.1"/><use href="#sq" x="1405.1" y="692.6"/><use href="#sq" x="1406.2" y="692.9"/><use href="#sq" x="1407.3" y="693.6"/><use href="#sq" x="1408.4" y="693.6"/><use href="#sq" x="1409.5" y="695.1"/><use href="#sq" x="1410.6" y="693.9"/><use href="#sq" x="1411.7" y="693.8"/><use href="#sq" x="1412.8" y="696.2"/><use href="#sq" x="1413.9" y="695.4"/><use href="#sq" x="1415" y="694.8"/><use href="#sq" x="1416.1" y="696"/><use href="#sq" x="1417.2" y="694.9"/><use href="#sq" x="1418.3" y="696.4"/><use href="#sq" x="1419.4" y="697.9"/><use href="#sq" x="1420.5" y="697.9"/><use href="#sq" x="1421.6" y="697.7"/><use href="#sq" x="1422.7" y="696.7"/><use href="#sq" x="1423.8" y="697.2"/><use href="#sq" x="1424.9" y="696.9"/><use href="#sq" x="1426" y="698.9"/><use href="#sq" x="1427.1" y="698.5"/><use href="#sq" x="1428.2" y="699.5"/><use href="#sq" x="1429.3" y="698.3"/><use href="#sq" x="1430.4" y="698.2"/><use href="#sq" x="1431.5" y="700.4"/><use href="#sq" x="1432.6" y="701.3"/><use href="#sq" x="1433.7" y="701.1"/><use href="#sq" x="1434.8" y="701.2"/><use href="#sq" x="1435.9" y="701.6"/><use href="#sq" x="1437" y="701.5"/><use href="#sq" x="1438.1" y="699.9"/><use href="#sq" x="1439.2" y="701.2"/><use href="#sq" x="1440.3" y="700.9"/><use href="#sq" x="1441.4" y="699.8"/><use href="#sq" x="1442.5" y="700.1"/><use href="#sq" x="1443.6" y="701.3"/><use href="#sq" x="1444.7" y="701.5"/><use href="#sq" x="1445.8" y="703.6"/><use href="#sq" x="1446.9" y="705"/><use href="#sq" x="1448" y="703.1"/><use href="#sq" x="1449.1" y="705.5"/><use href="#sq" x="1450.2" y="706.1"/><use href="#sq" x="1451.3" y="706.2"/><use href="#sq" x="1452.4" y="703.8"/><use href="#sq" x="1453.5" y="703.4"/><use href="#sq" x="1454.6" y="703.7"/><use href="#sq" x="1455.7" y="703.8"/><use href="#sq" x="1456.8" y="704.1"/><use href="#sq" x="1457.9" y="706.5"/><use href="#sq" x="1459" y="708.1"/><use href="#sq" x="1460.1" y="708.1"/><use href="#sq" x="1461.2" y="706.6"/><use href="#sq" x="1462.3" y="707.8"/><use href="#sq" x="1463.4" y="708.9"/><use href="#sq" x="1464.5" y="705.4"/><use href="#sq" x="1465.6" y="708.7"/><use href="#sq" x="1466.7" y="710.4"/><use href="#sq" x="1467.8" y="710"/><use href="#sq" x="1468.9" y="710.1"/><use href="#sq" x="1470" y="708.9"/><use href="#sq" x="1471.1" y="707.5"/><use href="#sq" x="1472.2" y="711.3"/><use href="#sq" x="1473.3" y="709"/><use href="#sq" x="1474.4" y="712"/><use href="#sq" x="1475.5" y="713.3"/><use href="#sq" x="1476.6" y="710.2"/><use href="#sq" x="1477.7" y="710.5"/><use href="#sq" x="1478.8" y="714.1"/><use href="#sq" x="1479.9" y="713.1"/><use href="#sq" x="1481" y="710"/><use href="#sq" x="1482.1" y="710.1"/><use href="#sq" x="1483.2" y="710.5"/><use href="#sq" x="1484.3" y="715.3"/><use href="#sq" x="1485.4" y="715"/><use href="#sq" x="1486.5" y="711.4"/><use href="#sq" x="1487.6" y="715.7"/><use href="#sq" x="1488.7" y="716.9"/><use href="#sq" x="1489.8" y="715.3"/><use href="#sq" x="1490.9" y="713.7"/><use href="#sq" x="1492" y="715.2"/><use href="#sq" x="1493.1" y="713"/><use href="#sq" x="1494.2" y="712.6"/><use href="#sq" x="1495.3" y="718.6"/><use href="#sq" x="1496.4" y="717"/><use href="#sq" x="1497.5" y="716.5"/><use href="#sq" x="1498.6" y="719.3"/><use href="#sq" x="1499.7" y="716.5"/><use href="#sq" x="1500.8" y="719.4"/><use href="#sq" x="1501.9" y="719.5"/><use href="#sq" x="1503" y="716"/><use href="#sq" x="1504.1" y="716.6"/><use href="#sq" x="1505.2" y="717.1"/><use href="#sq" x="1506.3" y="717"/><use href="#sq" x="1507.4" y="719.4"/><use href="#sq" x="1508.5" y="717.7"/><use href="#sq" x="1509.6" y="718.9"/><use href="#sq" x="1510.7" y="717.5"/><use href="#sq" x="1511.8" y="722.4"/><use href="#sq" x="1512.9" y="719.3"/><use href="#sq" x="1514" y="720.2"/><use href="#sq" x="1515.1" y="721.2"/><use href="#sq" x="1516.2" y="723.4"/><use href="#sq" x="1517.3" y="720.8"/><use href="#sq" x="1518.4" y="724"/><use href="#sq" x="1519.5" y="721.8"/><use href="#sq" x="1520.6" y="722.2"/><use href="#sq" x="1521.7" y="722.4"/><use href="#sq" x="1522.8" y="719.7"/><use href="#sq" x="1523.9" y="722.5"/><use href="#sq" x="1525" y="721.2"/><use href="#sq" x="1526.1" y="720.4"/><use href="#sq" x="1527.2" y="725.4"/><use href="#sq" x="1528.3" y="721.9"/><use href="#sq" x="1529.4" y="724"/><use href="#sq" x="1530.5" y="725.7"/><use href="#sq" x="1531.6" y="725"/><use href="#sq" x="1532.7" y="723.8"/><use href="#sq" x="1533.8" y="725.3"/><use href="#sq" x="1534.9" y="725.7"/><use href="#sq" x="1536" y="727.4"/><use href="#sq" x="1537.1" y="723.5"/><use href="#sq" x="1538.2" y="726.5"/><use href="#sq" x="1539.3" y="724.9"/><use href="#sq" x="1540.4" y="725.3"/><use href="#sq" x="1541.5" y="728.5"/><use href="#sq" x="1542.6" y="727.2"/><use href="#sq" x="1543.7" y="727.8"/><use href="#sq" x="1544.8" y="729.2"/><use href="#sq" x="1545.9" y="730.4"/><use href="#sq" x="1547" y="727.8"/><use href="#sq" x="1548.1" y="729.1"/><use href="#sq" x="1549.2" y="728.7"/><use href="#sq" x="1550.3" y="728.9"/><use href="#sq" x="1551.4" y="730.3"/><use href="#sq" x="1552.5" y="729.1"/><use href="#sq" x="1553.6" y="729.8"/><use href="#sq" x="1554.7" y="729.7"/><use href="#sq" x="1555.8" y="732.7"/><use href="#sq" x="1556.9" y="731.5"/><use href="#sq" x="1558" y="732.8"/><use href="#sq" x="1559.1" y="733.4"/><use href="#sq" x="1560.2" y="729.6"/><use href="#sq" x="1561.3" y="731.6"/><use href="#sq" x="1562.4" y="734.1"/><use href="#sq" x="1563.5" y="733.7"/><use href="#sq" x="1564.6" y="729.7"/><use href="#sq" x="1565.7" y="729.9"/><use href="#sq" x="1566.8" y="732"/><use href="#sq" x="1567.9" y="730"/><use href="#sq" x="1569" y="731.2"/><use href="#sq" x="1570.1" y="730.5"/><use href="#sq" x="1571.2" y="734.2"/><use href="#sq" x="1572.3" y="735.1"/><use href="#sq" x="1573.4" y="736"/><use href="#sq" x="1574.5" y="731.7"/><use href="#sq" x="1575.6" y="735.3"/><use href="#sq" x="1576.7" y="735.1"/><use href="#sq" x="1577.8" y="732.2"/><use href="#sq" x="1578.9" y="736.8"/><use href="#sq" x="1580" y="737.4"/><use href="#sq" x="1581.1" y="733.1"/><use href="#sq" x="1582.2" y="737.7"/><use href="#sq" x="1583.3" y="734.5"/><use href="#sq" x="1584.4" y="735.2"/><use href="#sq" x="1585.5" y="738.4"/><use href="#sq" x="1586.6" y="737.6"/><use href="#sq" x="1587.7" y="733.8"/><use href="#sq" x="1588.8" y="735.6"/><use href="#sq" x="1589.9" y="736.3"/><use href="#sq" x="1599.1" y="737.3"/><use href="#sq" x="1613.4" y="743.8"/>
</g>
<g>
<use href="#ci" x="933" y="589.1"/><use href="#ci" x="956.2" y="589.7"/><use href="#ci" x="987.1" y="602.1"/><use href="#ci" x="992.2" y="605.8"/><use href="#ci" x="1007.2" y="616"/><use href="#ci" x="1022.1" y="623.7"/><use href="#ci" x="1035" y="630.9"/><use href="#ci" x="1046.3" y="637.6"/><use href="#ci" x="1054" y="642.5"/><use href="#ci" x="1066.9" y="650.1"/><use href="#ci" x="1078.8" y="659.2"/><use href="#ci" x="1089.6" y="652.6"/><use href="#ci" x="1103" y="655.2"/><use href="#ci" x="1110.2" y="654.7"/><use href="#ci" x="1121.6" y="657.1"/><use href="#ci" x="1131.9" y="668.2"/><use href="#ci" x="1141.8" y="670.8"/><use href="#ci" x="1150.1" y="675.5"/><use href="#ci" x="1164.7" y="667.8"/><use href="#ci" x="1171.1" y="671.5"/><use href="#ci" x="1177.1" y="674.7"/><use href="#ci" x="1182.7" y="679.8"/><use href="#ci" x="1188" y="685"/><use href="#ci" x="1193" y="689.5"/><use href="#ci" x="1197.6" y="692"/><use href="#ci" x="1202.1" y="697.3"/><use href="#ci" x="1206.3" y="699.1"/><use href="#ci" x="1210.3" y="701.7"/><use href="#ci" x="1214.2" y="700.8"/><use href="#ci" x="1217.8" y="702.9"/><use href="#ci" x="1221.4" y="703.5"/><use href="#ci" x="1224.8" y="707.4"/><use href="#ci" x="1228" y="707.1"/><use href="#ci" x="1231.2" y="708.1"/><use href="#ci" x="1234.2" y="710.6"/><use href="#ci" x="1237.1" y="714.1"/><use href="#ci" x="1239.9" y="715.7"/><use href="#ci" x="1242.7" y="715.8"/><use href="#ci" x="1245.3" y="717.6"/><use href="#ci" x="1247.9" y="722.9"/><use href="#ci" x="1250.4" y="723.9"/><use href="#ci" x="1252.8" y="726.8"/><use href="#ci" x="1255.2" y="726.7"/><use href="#ci" x="1257.5" y="728.9"/><use href="#ci" x="1259.7" y="733.7"/><use href="#ci" x="1261.9" y="734.7"/><use href="#ci" x="1264" y="735.2"/><use href="#ci" x="1266.1" y="740.7"/><use href="#ci" x="1268.1" y="741.2"/><use href="#ci" x="1270.1" y="743.6"/><use href="#ci" x="1272" y="742.1"/><use href="#ci" x="1273.9" y="747"/><use href="#ci" x="1275.8" y="745.1"/><use href="#ci" x="1277.6" y="750.1"/><use href="#ci" x="1279.4" y="749.8"/><use href="#ci" x="1281.1" y="750.7"/><use href="#ci" x="1282.8" y="753"/><use href="#ci" x="1284.5" y="756"/><use href="#ci" x="1286.1" y="754.4"/><use href="#ci" x="1287.7" y="755"/><use href="#ci" x="1289.3" y="758"/><use href="#ci" x="1290.8" y="757.9"/><use href="#ci" x="1292.4" y="758.5"/><use href="#ci" x="1293.8" y="759.9"/><use href="#ci" x="1295.3" y="760.5"/><use href="#ci" x="1296.8" y="762.2"/><use href="#ci" x="1298.2" y="763.7"/><use href="#ci" x="1299.6" y="764.6"/><use href="#ci" x="1301" y="767.5"/><use href="#ci" x="1302.3" y="766.2"/><use href="#ci" x="1303.6" y="767.8"/><use href="#ci" x="1305" y="767"/><use href="#ci" x="1306.2" y="768.4"/><use href="#ci" x="1307.5" y="767.6"/><use href="#ci" x="1308.8" y="769.3"/><use href="#ci" x="1310" y="768.9"/><use href="#ci" x="1311.2" y="772.7"/><use href="#ci" x="1312.4" y="772.6"/><use href="#ci" x="1313.6" y="771.8"/><use href="#ci" x="1314.8" y="773.8"/><use href="#ci" x="1315.9" y="776.7"/><use href="#ci" x="1317.1" y="774"/><use href="#ci" x="1318.2" y="778.2"/><use href="#ci" x="1319.3" y="777.6"/><use href="#ci" x="1320.4" y="779.1"/><use href="#ci" x="1321.5" y="782"/><use href="#ci" x="1322.6" y="782.2"/><use href="#ci" x="1323.7" y="785.4"/><use href="#ci" x="1324.8" y="789.4"/><use href="#ci" x="1325.9" y="794.1"/><use href="#ci" x="1327" y="794.8"/><use href="#ci" x="1334.7" y="788.4"/><use href="#ci" x="1335.8" y="787.9"/><use href="#ci" x="1336.9" y="790.5"/><use href="#ci" x="1338" y="788.1"/><use href="#ci" x="1339.1" y="787.3"/><use href="#ci" x="1340.2" y="786.7"/><use href="#ci" x="1341.3" y="789.6"/><use href="#ci" x="1342.4" y="789.4"/><use href="#ci" x="1343.5" y="788.2"/><use href="#ci" x="1344.6" y="786.1"/><use href="#ci" x="1345.7" y="785.4"/><use href="#ci" x="1346.8" y="785.2"/><use href="#ci" x="1347.9" y="785.4"/><use href="#ci" x="1349" y="783.6"/><use href="#ci" x="1350.1" y="784.3"/><use href="#ci" x="1351.2" y="783"/><use href="#ci" x="1352.3" y="785.5"/><use href="#ci" x="1353.4" y="785.1"/><use href="#ci" x="1354.5" y="782.7"/><use href="#ci" x="1355.6" y="781"/><use href="#ci" x="1356.7" y="783.8"/><use href="#ci" x="1357.8" y="780.6"/><use href="#ci" x="1358.9" y="780.6"/><use href="#ci" x="1360" y="778.9"/><use href="#ci" x="1361.1" y="780.4"/><use href="#ci" x="1362.2" y="780.6"/><use href="#ci" x="1363.3" y="780.6"/><use href="#ci" x="1364.4" y="779.2"/><use href="#ci" x="1365.5" y="780.5"/><use href="#ci" x="1366.6" y="778.2"/><use href="#ci" x="1385.3" y="815.4"/><use href="#ci" x="1386.4" y="815.7"/><use href="#ci" x="1387.5" y="815"/><use href="#ci" x="1388.6" y="813.7"/><use href="#ci" x="1389.7" y="814.2"/><use href="#ci" x="1390.8" y="813.7"/><use href="#ci" x="1391.9" y="812.8"/><use href="#ci" x="1393" y="812.3"/><use href="#ci" x="1394.1" y="811.9"/><use href="#ci" x="1395.2" y="810.3"/><use href="#ci" x="1396.3" y="810.2"/><use href="#ci" x="1397.4" y="809.6"/><use href="#ci" x="1398.5" y="809.4"/><use href="#ci" x="1399.6" y="808.7"/><use href="#ci" x="1400.7" y="808"/><use href="#ci" x="1401.8" y="807"/><use href="#ci" x="1402.9" y="806.7"/><use href="#ci" x="1404" y="805.7"/><use href="#ci" x="1405.1" y="805"/><use href="#ci" x="1406.2" y="803.6"/><use href="#ci" x="1407.3" y="802.6"/><use href="#ci" x="1408.4" y="802"/><use href="#ci" x="1409.5" y="801.5"/><use href="#ci" x="1410.6" y="800.3"/><use href="#ci" x="1411.7" y="800.6"/><use href="#ci" x="1412.8" y="799.3"/><use href="#ci" x="1413.9" y="798.6"/><use href="#ci" x="1415" y="797.8"/><use href="#ci" x="1416.1" y="797"/><use href="#ci" x="1417.2" y="796"/><use href="#ci" x="1440.3" y="811.8"/><use href="#ci" x="1441.4" y="811.6"/><use href="#ci" x="1442.5" y="810.7"/><use href="#ci" x="1443.6" y="810.6"/><use href="#ci" x="1444.7" y="810.6"/><use href="#ci" x="1445.8" y="811.1"/><use href="#ci" x="1446.9" y="810.4"/><use href="#ci" x="1448" y="810.7"/><use href="#ci" x="1449.1" y="809.8"/><use href="#ci" x="1450.2" y="809.8"/><use href="#ci" x="1451.3" y="810"/><use href="#ci" x="1452.4" y="810.5"/><use href="#ci" x="1453.5" y="810.5"/><use href="#ci" x="1454.6" y="810.4"/><use href="#ci" x="1455.7" y="809.8"/><use href="#ci" x="1456.8" y="810.1"/><use href="#ci" x="1457.9" y="810"/><use href="#ci" x="1459" y="810"/><use href="#ci" x="1460.1" y="809.5"/><use href="#ci" x="1461.2" y="810.6"/><use href="#ci" x="1462.3" y="809.6"/><use href="#ci" x="1463.4" y="810.7"/><use href="#ci" x="1464.5" y="810.6"/><use href="#ci" x="1465.6" y="809.3"/><use href="#ci" x="1466.7" y="810"/><use href="#ci" x="1467.8" y="810.8"/><use href="#ci" x="1468.9" y="811.6"/><use href="#ci" x="1470" y="811.7"/><use href="#ci" x="1471.1" y="812.5"/><use href="#ci" x="1472.2" y="813.7"/><use href="#ci" x="1473.3" y="816.1"/><use href="#ci" x="1474.4" y="816.5"/><use href="#ci" x="1475.5" y="818.5"/><use href="#ci" x="1476.6" y="819.4"/><use href="#ci" x="1477.7" y="821.4"/><use href="#ci" x="1478.8" y="823.4"/><use href="#ci" x="1479.9" y="823.6"/><use href="#ci" x="1481" y="825.7"/><use href="#ci" x="1482.1" y="826.2"/><use href="#ci" x="1483.2" y="827.5"/><use href="#ci" x="1484.3" y="827.7"/><use href="#ci" x="1485.4" y="827.2"/><use href="#ci" x="1486.5" y="828.2"/><use href="#ci" x="1487.6" y="827.6"/><use href="#ci" x="1488.7" y="826.9"/><use href="#ci" x="1489.8" y="826.8"/><use href="#ci" x="1490.9" y="827.5"/><use href="#ci" x="1492" y="827.4"/><use href="#ci" x="1493.1" y="827.1"/><use href="#ci" x="1494.2" y="826.8"/><use href="#ci" x="1495.3" y="827.1"/><use href="#ci" x="1496.4" y="827"/><use href="#ci" x="1497.5" y="827.6"/><use href="#ci" x="1498.6" y="826.4"/><use href="#ci" x="1499.7" y="827.4"/><use href="#ci" x="1500.8" y="827.4"/><use href="#ci" x="1501.9" y="826.3"/><use href="#ci" x="1503" y="827.3"/><use href="#ci" x="1504.1" y="826.9"/><use href="#ci" x="1505.2" y="826.9"/><use href="#ci" x="1506.3" y="825.9"/><use href="#ci" x="1507.4" y="825.8"/><use href="#ci" x="1508.5" y="825.6"/><use href="#ci" x="1509.6" y="826.2"/><use href="#ci" x="1510.7" y="825.4"/><use href="#ci" x="1511.8" y="824.8"/><use href="#ci" x="1512.9" y="824.6"/><use href="#ci" x="1514" y="824.2"/><use href="#ci" x="1540.4" y="876.3"/><use href="#ci" x="1541.5" y="874.6"/><use href="#ci" x="1542.6" y="874.4"/><use href="#ci" x="1543.7" y="871.9"/><use href="#ci" x="1544.8" y="871"/><use href="#ci" x="1545.9" y="869.5"/><use href="#ci" x="1547" y="868.2"/><use href="#ci" x="1548.1" y="867.7"/><use href="#ci" x="1549.2" y="866.8"/><use href="#ci" x="1550.3" y="864.7"/><use href="#ci" x="1551.4" y="864.1"/><use href="#ci" x="1552.5" y="862.5"/><use href="#ci" x="1553.6" y="861.8"/><use href="#ci" x="1554.7" y="860.6"/><use href="#ci" x="1555.8" y="859.2"/><use href="#ci" x="1556.9" y="858.2"/><use href="#ci" x="1558" y="857.2"/><use href="#ci" x="1559.1" y="857.2"/><use href="#ci" x="1560.2" y="855.5"/><use href="#ci" x="1561.3" y="853.9"/><use href="#ci" x="1562.4" y="853.6"/><use href="#ci" x="1563.5" y="852.5"/><use href="#ci" x="1564.6" y="850.5"/><use href="#ci" x="1565.7" y="848.9"/><use href="#ci" x="1566.8" y="848"/><use href="#ci" x="1567.9" y="847.1"/><use href="#ci" x="1569" y="846.9"/><use href="#ci" x="1570.1" y="846.2"/><use href="#ci" x="1571.2" y="846.4"/><use href="#ci" x="1572.3" y="846.5"/><use href="#ci" x="1573.4" y="847.1"/><use href="#ci" x="1574.5" y="847.7"/><use href="#ci" x="1575.6" y="847.6"/><use href="#ci" x="1576.7" y="847.3"/><use href="#ci" x="1577.8" y="847.5"/><use href="#ci" x="1578.9" y="847.8"/><use href="#ci" x="1580" y="847.8"/><use href="#ci" x="1581.1" y="847.9"/><use href="#ci" x="1582.2" y="847.6"/><use href="#ci" x="1583.3" y="848"/><use href="#ci" x="1584.4" y="849.1"/><use href="#ci" x="1585.5" y="847.9"/><use href="#ci" x="1586.6" y="848.4"/><use href="#ci" x="1587.7" y="848.5"/><use href="#ci" x="1588.8" y="848.7"/><use href="#ci" x="1589.9" y="847.7"/><use href="#ci" x="1370" y="781"/><use href="#ci" x="1381.5" y="785.9"/><use href="#ci" x="1418.1" y="797.1"/><use href="#ci" x="1437.3" y="793.9"/><use href="#ci" x="1434.1" y="803.6"/><use href="#ci" x="1431.7" y="818"/><use href="#ci" x="1426.1" y="827.6"/><use href="#ci" x="1424.5" y="830"/><use href="#ci" x="1418.1" y="862.9"/><use href="#ci" x="1443.7" y="860.5"/><use href="#ci" x="1515.9" y="810"/><use href="#ci" x="1530.3" y="816.4"/><use href="#ci" x="1533.5" y="825.2"/><use href="#ci" x="1511.1" y="834"/><use href="#ci" x="1535.1" y="840.4"/><use href="#ci" x="1527.1" y="849.2"/><use href="#ci" x="1523.6" y="741.8"/><use href="#ci" x="1535.9" y="925.4"/><use href="#ci" x="1578.4" y="832.4"/><use href="#ci" x="1599.6" y="838"/><use href="#ci" x="1613.7" y="823.1"/>
</g>
<g clip-path="url(#pc)" fill="none" stroke-width="7.6" stroke-linejoin="round">
<path d="M185.5 1149.2L191.5 1149.1L197.5 1148.9L203.5 1148.8L209.5 1148.7L215.5 1148.7L221.5 1148.6L227.5 1148.5L233.5 1148.4L239.5 1148.4L245.5 1148.3L251.5 1148.3L257.5 1148.3L263.5 1148.2L269.5 1148.2L275.5 1148.2L281.5 1148.2L287.5 1148.2L293.5 1148.2L299.5 1148.2L305.5 1148.2L311.5 1148.2L317.5 1148.3L323.5 1148.3L329.5 1148.3L335.5 1148.3L341.5 1148.4L347.5 1148.4L353.5 1148.5L359.5 1148.5L365.5 1148.5L371.5 1148.6L377.5 1148.6L383.5 1148.7L389.5 1148.7L395.5 1148.8L401.5 1148.8L407.5 1148.8L413.5 1148.9L419.5 1148.9L425.5 1149L431.5 1149L437.5 1149L443.5 1149.1L449.5 1149.1L455.5 1149.1L461.5 1149.2L467.5 1149.2L473.5 1149.2L479.5 1149.2L485.5 1149.2L491.5 1149.2L497.5 1149.2L503.5 1149.2L509.5 1149.2L515.5 1149.2L521.5 1149.2L527.5 1149.1L533.5 1149.1L539.5 1149L545.5 1149L551.5 1148.9L557.5 1148.9L563.5 1148.8L569.5 1148.7L575.5 1148.6L581.5 1148.5L587.5 1148.4L593.5 1148.3L599.5 1148.1L605.5 1148L611.5 1147.8L617.5 1147.7L623.5 1147.5L629.5 1147.3L635.5 1147.1L641.5 1146.9L647.5 1146.6L653.5 1146.4L659.5 1146.2L665.5 1145.9L671.5 1145.6L677.5 1145.3L683.5 1145L689.5 1144.7L695.5 1144.3L701.5 1144L707.5 1143.6L713.5 1143.2L719.5 1142.8L725.5 1142.4L731.5 1141.9L737.5 1141.4L743.5 1140.9L749.5 1140.4L755.5 1139.9L761.5 1139.3L767.5 1138.7L773.5 1138.1L779.5 1137.4L785.5 1136.8L791.5 1136L797.5 1135.3L803.5 1134.5L809.5 1133.7L815.5 1132.9L821.5 1132L827.5 1131.1L833.5 1130.2L839.5 1129.2L845.5 1128.2L851.5 1127.2L857.5 1126.1L863.5 1125L869.5 1123.8L875.5 1122.6L881.5 1121.4L887.5 1120.1L893.5 1118.7L899.5 1117.4L905.5 1115.9L911.5 1114.5L917.5 1113L923.5 1111.4L929.5 1109.8L935.5 1108.1L941.5 1106.4L947.5 1104.7L953.5 1102.9L959.5 1101L965.5 1099.1L971.5 1097.1L977.5 1095.1L983.5 1093L989.5 1090.9L995.5 1088.7L1001.5 1086.4L1007.5 1084.1L1013.5 1081.7L1019.5 1079.3L1025.5 1076.8L1031.5 1074.2L1037.5 1071.6L1043.5 1068.9L1049.5 1066.2L1055.5 1063.4L1061.5 1060.5L1067.5 1057.5L1073.5 1054.5L1079.5 1051.4L1085.5 1048.3L1091.5 1045L1097.5 1041.7L1103.5 1038.4L1109.5 1034.9L1115.5 1031.4L1121.5 1027.8L1127.5 1024.1L1133.5 1020.4L1139.5 1016.6L1145.5 1012.6L1151.5 1008.5L1157.5 1004.3L1163.5 999.8L1169.5 995.2L1175.5 990.3L1181.5 985.2L1187.5 979.9L1193.5 974.3L1199.5 968.5L1205.5 962.5L1211.5 956.2L1217.5 949.8L1223.5 943.1L1229.5 936.2L1235.5 929.1L1241.5 921.8L1247.5 914.3L1253.5 906.5L1259.5 898.6L1265.5 890.5L1271.5 882.3L1277.5 873.9L1283.5 865.3L1289.5 856.6L1295.5 847.8L1301.5 838.9L1307.5 830L1313.5 821L1319.5 811.9L1325.5 802.9L1331.5 793.8L1337.5 784.7L1343.5 775.7L1349.5 766.7L1355.5 757.7L1361.5 748.7L1367.5 739.7L1373.5 730.6L1379.5 721.3L1385.5 711.9L1391.5 702.2L1397.5 692.5L1403.5 682.6L1409.5 672.6L1415.5 662.6L1421.5 652.5L1427.5 642.5L1433.5 632.4L1439.5 622.5L1445.5 612.6L1451.5 602.8L1452.7 600.8L1491.2 547.4L1531.8 503L1571.3 497.2L1610.9 480.1L1650.4 434.1L1690 416L1728.4 403.1L1771.2 397.4L1824.6 395.5L2158 395.5" stroke="#00ff00"/>
<path d="M185.5 1148.6L191.5 1148.4L197.5 1148.2L203.5 1148L209.5 1147.8L215.5 1147.7L221.5 1147.5L227.5 1147.4L233.5 1147.3L239.5 1147.2L245.5 1147.1L251.5 1147L257.5 1147L263.5 1146.9L269.5 1146.9L275.5 1146.8L281.5 1146.8L287.5 1146.8L293.5 1146.8L299.5 1146.8L305.5 1146.8L311.5 1146.8L317.5 1146.8L323.5 1146.8L329.5 1146.8L335.5 1146.9L341.5 1146.9L347.5 1146.9L353.5 1147L359.5 1147L365.5 1147L371.5 1147L377.5 1147.1L383.5 1147.1L389.5 1147.1L395.5 1147.2L401.5 1147.2L407.5 1147.2L413.5 1147.2L419.5 1147.2L425.5 1147.2L431.5 1147.2L437.5 1147.2L443.5 1147.2L449.5 1147.1L455.5 1147.1L461.5 1147L467.5 1147L473.5 1146.9L479.5 1146.8L485.5 1146.8L491.5 1146.7L497.5 1146.5L503.5 1146.4L509.5 1146.3L515.5 1146.1L521.5 1145.9L527.5 1145.8L533.5 1145.5L539.5 1145.3L545.5 1145.1L551.5 1144.8L557.5 1144.6L563.5 1144.3L569.5 1144L575.5 1143.6L581.5 1143.3L587.5 1142.9L593.5 1142.5L599.5 1142.1L605.5 1141.6L611.5 1141.2L617.5 1140.7L623.5 1140.1L629.5 1139.6L635.5 1139L641.5 1138.4L647.5 1137.8L653.5 1137.2L659.5 1136.5L665.5 1135.8L671.5 1135L677.5 1134.3L683.5 1133.5L689.5 1132.6L695.5 1131.8L701.5 1130.9L707.5 1129.9L713.5 1129L719.5 1128L725.5 1126.9L731.5 1125.9L737.5 1124.8L743.5 1123.7L749.5 1122.5L755.5 1121.3L761.5 1120.1L767.5 1118.8L773.5 1117.5L779.5 1116.1L785.5 1114.8L791.5 1113.3L797.5 1111.9L803.5 1110.4L809.5 1108.9L815.5 1107.3L821.5 1105.7L827.5 1104.1L833.5 1102.4L839.5 1100.6L845.5 1098.9L851.5 1097.1L857.5 1095.2L863.5 1093.3L869.5 1091.4L875.5 1089.4L881.5 1087.3L887.5 1085.2L893.5 1083.1L899.5 1080.9L905.5 1078.6L911.5 1076.3L917.5 1073.9L923.5 1071.5L929.5 1068.9L935.5 1066.4L941.5 1063.7L947.5 1061L953.5 1058.2L959.5 1055.3L965.5 1052.4L971.5 1049.4L977.5 1046.3L983.5 1043.1L989.5 1039.8L995.5 1036.5L1001.5 1033.1L1007.5 1029.5L1013.5 1025.9L1019.5 1022.2L1025.5 1018.4L1031.5 1014.4L1037.5 1010.3L1043.5 1006L1049.5 1001.5L1055.5 996.8L1061.5 991.9L1067.5 986.8L1073.5 981.6L1079.5 976.1L1085.5 970.4L1091.5 964.5L1097.5 958.4L1103.5 952.2L1109.5 945.7L1115.5 939.1L1121.5 932.2L1127.5 925.2L1133.5 918L1139.5 910.6L1145.5 903L1151.5 895.2L1157.5 887.3L1163.5 879.1L1169.5 870.8L1175.5 862.4L1181.5 853.8L1187.5 845.1L1193.5 836.2L1199.5 827.2L1205.5 818L1211.5 808.8L1217.5 799.4L1223.5 790L1229.5 780.4L1235.5 770.8L1241.5 761L1247.5 751.2L1253.5 741.3L1259.5 731.3L1265.5 721.3L1271.5 711.2L1277.5 701.2L1283.5 691.1L1289.5 681.1L1295.5 671.2L1301.5 661.4L1307.5 651.8L1313.5 642.3L1319.5 632.9L1325.5 623.7L1331.5 614.7L1337.5 605.8L1343.5 597.1L1349.5 588.6L1355.5 580.2L1361.5 572L1367.5 564.1L1373.5 556.3L1379.5 548.7L1385.5 541.3L1391.5 534.1L1397.5 527.1L1403.5 520.4L1409.5 513.8L1415.5 507.5L1421.5 501.4L1427.5 495.6L1433.5 490L1439.5 484.5L1445.5 479.3L1451.5 474.1L1457.5 469.1L1463.5 464.2L1469.5 459.3L1475.5 454.5L1481.5 449.6L1487.5 444.8L1493.5 439.9L1499.5 435L1505.5 429.9L1511.5 424.8L1517.5 419.5L1523.5 414L1529.5 408.3L1535.5 402.4L1541.5 396.3L1547.5 389.9L1553.5 383.2L1559.5 376.1L1565.5 368.7L1571.5 361L1577.5 352.8L1578.8 351L1621.6 307L1657.9 282.5L1698.5 267.5L1743.4 263.2L1880 264.3L2158 264.3" stroke="#ff0000"/>
<path d="M185.5 1148.9L191.5 1148.7L197.5 1148.5L203.5 1148.4L209.5 1148.2L215.5 1148.1L221.5 1148L227.5 1147.8L233.5 1147.7L239.5 1147.7L245.5 1147.6L251.5 1147.5L257.5 1147.5L263.5 1147.4L269.5 1147.4L275.5 1147.4L281.5 1147.4L287.5 1147.4L293.5 1147.3L299.5 1147.3L305.5 1147.4L311.5 1147.4L317.5 1147.4L323.5 1147.4L329.5 1147.4L335.5 1147.4L341.5 1147.5L347.5 1147.5L353.5 1147.5L359.5 1147.5L365.5 1147.5L371.5 1147.5L377.5 1147.5L383.5 1147.5L389.5 1147.5L395.5 1147.5L401.5 1147.5L407.5 1147.5L413.5 1147.4L419.5 1147.4L425.5 1147.3L431.5 1147.3L437.5 1147.2L443.5 1147.1L449.5 1147L455.5 1146.9L461.5 1146.7L467.5 1146.6L473.5 1146.4L479.5 1146.2L485.5 1146L491.5 1145.8L497.5 1145.6L503.5 1145.3L509.5 1145.1L515.5 1144.8L521.5 1144.4L527.5 1144.1L533.5 1143.7L539.5 1143.3L545.5 1142.9L551.5 1142.5L557.5 1142L563.5 1141.5L569.5 1141L575.5 1140.5L581.5 1139.9L587.5 1139.3L593.5 1138.6L599.5 1138L605.5 1137.3L611.5 1136.5L617.5 1135.8L623.5 1135L629.5 1134.1L635.5 1133.2L641.5 1132.3L647.5 1131.4L653.5 1130.4L659.5 1129.4L665.5 1128.3L671.5 1127.2L677.5 1126L683.5 1124.9L689.5 1123.6L695.5 1122.3L701.5 1121L707.5 1119.7L713.5 1118.3L719.5 1116.8L725.5 1115.3L731.5 1113.7L737.5 1112.1L743.5 1110.5L749.5 1108.8L755.5 1107.1L761.5 1105.3L767.5 1103.5L773.5 1101.6L779.5 1099.7L785.5 1097.8L791.5 1095.8L797.5 1093.8L803.5 1091.8L809.5 1089.8L815.5 1087.8L821.5 1085.7L827.5 1083.7L833.5 1081.6L839.5 1079.5L845.5 1077.4L851.5 1075.3L857.5 1073.2L863.5 1071L869.5 1068.8L875.5 1066.5L881.5 1064.1L887.5 1061.6L893.5 1059.1L899.5 1056.4L905.5 1053.7L911.5 1050.8L917.5 1047.7L923.5 1044.5L929.5 1041.2L935.5 1037.7L941.5 1034L947.5 1030.1L953.5 1026.1L959.5 1021.8L965.5 1017.3L971.5 1012.6L977.5 1007.7L983.5 1002.5L989.5 997.2L995.5 991.8L1001.5 986.1L1007.5 980.4L1013.5 974.5L1019.5 968.4L1025.5 962.3L1031.5 955.9L1037.5 949.4L1043.5 942.8L1049.5 935.9L1055.5 928.9L1061.5 921.7L1067.5 914.4L1073.5 906.9L1079.5 899.2L1085.5 891.3L1091.5 883.3L1097.5 875.2L1103.5 866.9L1109.5 858.5L1115.5 850L1121.5 841.3L1127.5 832.5L1133.5 823.6L1139.5 814.6L1145.5 805.5L1151.5 796.3L1157.5 787L1163.5 777.6L1169.5 768.2L1175.5 758.7L1181.5 749.1L1187.5 739.4L1193.5 729.7L1199.5 719.9L1205.5 710.1L1211.5 700.3L1217.5 690.4L1223.5 680.6L1229.5 670.9L1235.5 661.2L1241.5 651.6L1247.5 642L1253.5 632.6L1259.5 623.3L1265.5 614.1L1271.5 605L1277.5 596.1L1283.5 587.3L1289.5 578.7L1295.5 570.3L1301.5 562.1L1307.5 554.1L1313.5 546.3L1319.5 538.9L1325.5 531.8L1331.5 524.9L1337.5 518.4L1343.5 512.1L1349.5 506L1355.5 500.1L1361.5 494.4L1367.5 488.9L1373.5 483.5L1379.5 478.3L1385.5 473.1L1391.5 468L1397.5 463L1403.5 457.9L1409.5 452.9L1415.5 447.8L1421.5 442.7L1427.5 437.6L1433.5 432.3L1439.5 426.9L1445.5 421.3L1451.5 415.4L1457.5 409.3L1463.5 402.8L1469.5 395.8L1475.5 388.4L1481.5 380.6L1487.5 372.4L1493.5 363.8L1499.5 355L1505.5 346L1511.5 336.7L1517.5 327.3L1523.5 317.8L1529.5 308.3L1535.5 298.8L1541.5 289.3L1547.5 280L1553.5 270.8L1559.5 261.8L1565.5 253L1571.5 244.6L1577.5 236.4L1583.5 228.7L1585.2 226.6L1628 189.5L1668.6 171.3L1707.1 165.5L1743.4 165.3L1880 166.2L2158 166.2" stroke="#0000ff"/>
</g>
<rect x="183.8" y="643" width="710.8" height="397.2" fill="#fff" stroke="#000" stroke-width="2.6"/>
<path d="M189 679.1H308" stroke="#ff0000" stroke-width="7.5" fill="none"/>
<path d="M189 753.9H308" stroke="#00ff00" stroke-width="7.5" fill="none"/>
<path d="M189 830.8H308" stroke="#0000ff" stroke-width="7.5" fill="none"/>
<use href="#sq" x="249.8" y="912.2"/><use href="#ci" x="249.8" y="994.3"/>
<text x="334" y="696.2" font-size="52">Fitting curve<tspan font-style="italic">&amp;R</tspan><tspan font-size="34" dy="12">e</tspan><tspan dy="-12">=7000m</tspan></text>
<text x="334" y="771" font-size="52">Fitting curve<tspan font-style="italic">&amp;R</tspan><tspan font-size="34" dy="12">e</tspan><tspan dy="-12">=4000m</tspan></text>
<text x="334" y="847.9" font-size="52">Fitting curve<tspan font-style="italic">&amp;R</tspan><tspan font-size="34" dy="12">e</tspan><tspan dy="-12">=10000m</tspan></text>
<text x="321.5" y="928.6" font-size="52">Field(q/Δψ )<tspan font-size="34" dy="12">di</tspan></text>
<text x="321.5" y="1010.7" font-size="52">Field(q/Δψ )<tspan font-size="34" dy="12">did</tspan></text>
<rect x="1896.5" y="426.8" width="261.2" height="212.3" fill="#fff" stroke="#000" stroke-width="2.6"/>
<text x="1904.6" y="480.4" font-size="52"><tspan font-style="italic">b</tspan><tspan font-size="35.5" dy="14.4">Dpss</tspan><tspan dy="-14.4">=</tspan><tspan fill="#ff0000" dx="0.5">2.812</tspan></text>
<text x="2033.3" y="555.6" font-size="52" fill="#00ff00">2.396</text>
<text x="2033.8" y="620.5" font-size="51" fill="#0000ff">3.123</text>
<text x="187.3" y="1225.7" font-size="50" text-anchor="middle">10<tspan font-size="35" dy="-20.3">-1</tspan></text>
<text x="384.5" y="1225.7" font-size="50" text-anchor="middle">10<tspan font-size="35" dy="-20.3">0</tspan></text>
<text x="581.7" y="1225.7" font-size="50" text-anchor="middle">10<tspan font-size="35" dy="-20.3">1</tspan></text>
<text x="778.9" y="1225.7" font-size="50" text-anchor="middle">10<tspan font-size="35" dy="-20.3">2</tspan></text>
<text x="976.1" y="1225.7" font-size="50" text-anchor="middle">10<tspan font-size="35" dy="-20.3">3</tspan></text>
<text x="1173.2" y="1225.7" font-size="50" text-anchor="middle">10<tspan font-size="35" dy="-20.3">4</tspan></text>
<text x="1370.4" y="1225.7" font-size="50" text-anchor="middle">10<tspan font-size="35" dy="-20.3">5</tspan></text>
<text x="1567.6" y="1225.7" font-size="50" text-anchor="middle">10<tspan font-size="35" dy="-20.3">6</tspan></text>
<text x="1764.8" y="1225.7" font-size="50" text-anchor="middle">10<tspan font-size="35" dy="-20.3">7</tspan></text>
<text x="1962" y="1225.7" font-size="50" text-anchor="middle">10<tspan font-size="35" dy="-20.3">8</tspan></text>
<text x="2159.2" y="1225.7" font-size="50" text-anchor="middle">10<tspan font-size="35" dy="-20.3">9</tspan></text>
<text x="158" y="1169.1" font-size="50" text-anchor="end">10<tspan font-size="35" dy="-20.3">0</tspan></text>
<text x="158" y="985.1" font-size="50" text-anchor="end">10<tspan font-size="35" dy="-20.3">1</tspan></text>
<text x="158" y="801.2" font-size="50" text-anchor="end">10<tspan font-size="35" dy="-20.3">2</tspan></text>
<text x="158" y="617.2" font-size="50" text-anchor="end">10<tspan font-size="35" dy="-20.3">3</tspan></text>
<text x="158" y="433.2" font-size="50" text-anchor="end">10<tspan font-size="35" dy="-20.3">4</tspan></text>
<text x="158" y="249.3" font-size="50" text-anchor="end">10<tspan font-size="35" dy="-20.3">5</tspan></text>
<text x="158" y="65.3" font-size="50" text-anchor="end">10<tspan font-size="35" dy="-20.3">6</tspan></text>
<text x="2186.8" y="1166.2" font-size="50" letter-spacing="0.6">0.0</text>
<text x="2186.8" y="1008.5" font-size="50" letter-spacing="0.6">0.5</text>
<text x="2186.8" y="850.8" font-size="50" letter-spacing="0.6">1.0</text>
<text x="2186.8" y="693.1" font-size="50" letter-spacing="0.6">1.5</text>
<text x="2186.8" y="535.3" font-size="50" letter-spacing="0.6">2.0</text>
<text x="2186.8" y="377.6" font-size="50" letter-spacing="0.6">2.5</text>
<text x="2186.8" y="219.9" font-size="50" letter-spacing="0.6">3.0</text>
<text x="2186.8" y="62.2" font-size="50" letter-spacing="0.6">3.5</text>
<text x="1172.6" y="1284.3" font-size="58" font-weight="bold" text-anchor="middle" textLength="814" lengthAdjust="spacingAndGlyphs">Material balance Pseudo-time/hr</text>
<text transform="translate(66.1 1027.8) rotate(-90)" font-size="58" font-weight="bold" font-style="italic">q</text>
<text transform="translate(66.1 998.5) rotate(-90)" font-size="58" font-weight="bold">/</text>
<text transform="translate(66.6 984.8) rotate(-90) scale(1.071 1.080)" font-size="58" font-weight="bold">Δ</text>
<text transform="translate(67.3 940.7) rotate(-90) scale(1.082 0.900)" font-size="58" font-weight="bold" font-style="italic">ψ</text>
<text transform="translate(66.1 908.4) rotate(-90) scale(1.104 1.000)" font-size="58" font-weight="bold">)</text>
<text transform="translate(81.8 886.4) rotate(-90) scale(0.978 1.000)" font-size="38" font-weight="bold">di</text>
<text transform="translate(66.9 854.1) rotate(-90) scale(0.909 1.040)" font-size="58" font-weight="bold" font-style="italic">&amp;</text>
<text transform="translate(66.1 810.7) rotate(-90) scale(1.082 1.000)" font-size="58" font-weight="bold">(</text>
<text transform="translate(66.1 789.9) rotate(-90)" font-size="58" font-weight="bold" font-style="italic">q</text>
<text transform="translate(66.1 760.4) rotate(-90)" font-size="58" font-weight="bold">/</text>
<text transform="translate(66.6 746.3) rotate(-90) scale(1.056 1.080)" font-size="58" font-weight="bold">Δ</text>
<text transform="translate(67.3 702.7) rotate(-90) scale(1.091 0.900)" font-size="58" font-weight="bold" font-style="italic">ψ</text>
<text transform="translate(66.1 670) rotate(-90) scale(1.078 1.000)" font-size="58" font-weight="bold">)</text>
<text transform="translate(81.8 649.6) rotate(-90) scale(1.017 1.000)" font-size="38" font-weight="bold">did</text>
<text transform="translate(66.1 582) rotate(-90) scale(1.089 1.000)" font-size="58" font-weight="bold">(</text>
<text transform="translate(66.1 560.8) rotate(-90) scale(0.998 1.030)" font-size="58" font-weight="bold">10</text>
<text transform="translate(42.2 502.4) rotate(-90) scale(0.957 1.000)" font-size="38" font-weight="bold">4</text>
<text transform="translate(66.1 482.6) rotate(-90) scale(0.959 1.000)" font-size="58" font-weight="bold">m</text>
<text transform="translate(42.2 435.5) rotate(-90) scale(1.052 1.000)" font-size="38" font-weight="bold">3</text>
<text transform="translate(66.1 414.4) rotate(-90) scale(0.992 1.020)" font-size="58" font-weight="bold">/d/MPa</text>
<text transform="translate(42.2 231.3) rotate(-90) scale(0.985 1.000)" font-size="38" font-weight="bold">-1</text>
<text transform="translate(66.1 199.4) rotate(-90) scale(1.111 1.000)" font-size="58" font-weight="bold">)</text>
<text transform="translate(2294 759) rotate(-90) scale(1.010 0.900)" font-size="72" font-weight="bold" font-style="italic">ψ</text>
<text transform="translate(2310.5 720) rotate(-90) scale(1.032 1.000)" font-size="48" font-weight="bold">wD</text>
<text transform="translate(2292.5 649.4) rotate(-90) scale(1.042 1.000)" font-size="72" font-weight="bold">-</text>
<text transform="translate(2294 616.4) rotate(-90) scale(0.988 0.900)" font-size="72" font-weight="bold" font-style="italic">ψ</text>
<text transform="translate(2278.5 576.8) rotate(-90) scale(0.895 0.750)" font-size="72" font-weight="bold" font-style="italic">′</text>
<text transform="translate(2310.5 558) rotate(-90) scale(1.032 1.000)" font-size="48" font-weight="bold">wD</text>
</svg>
</body></html>
